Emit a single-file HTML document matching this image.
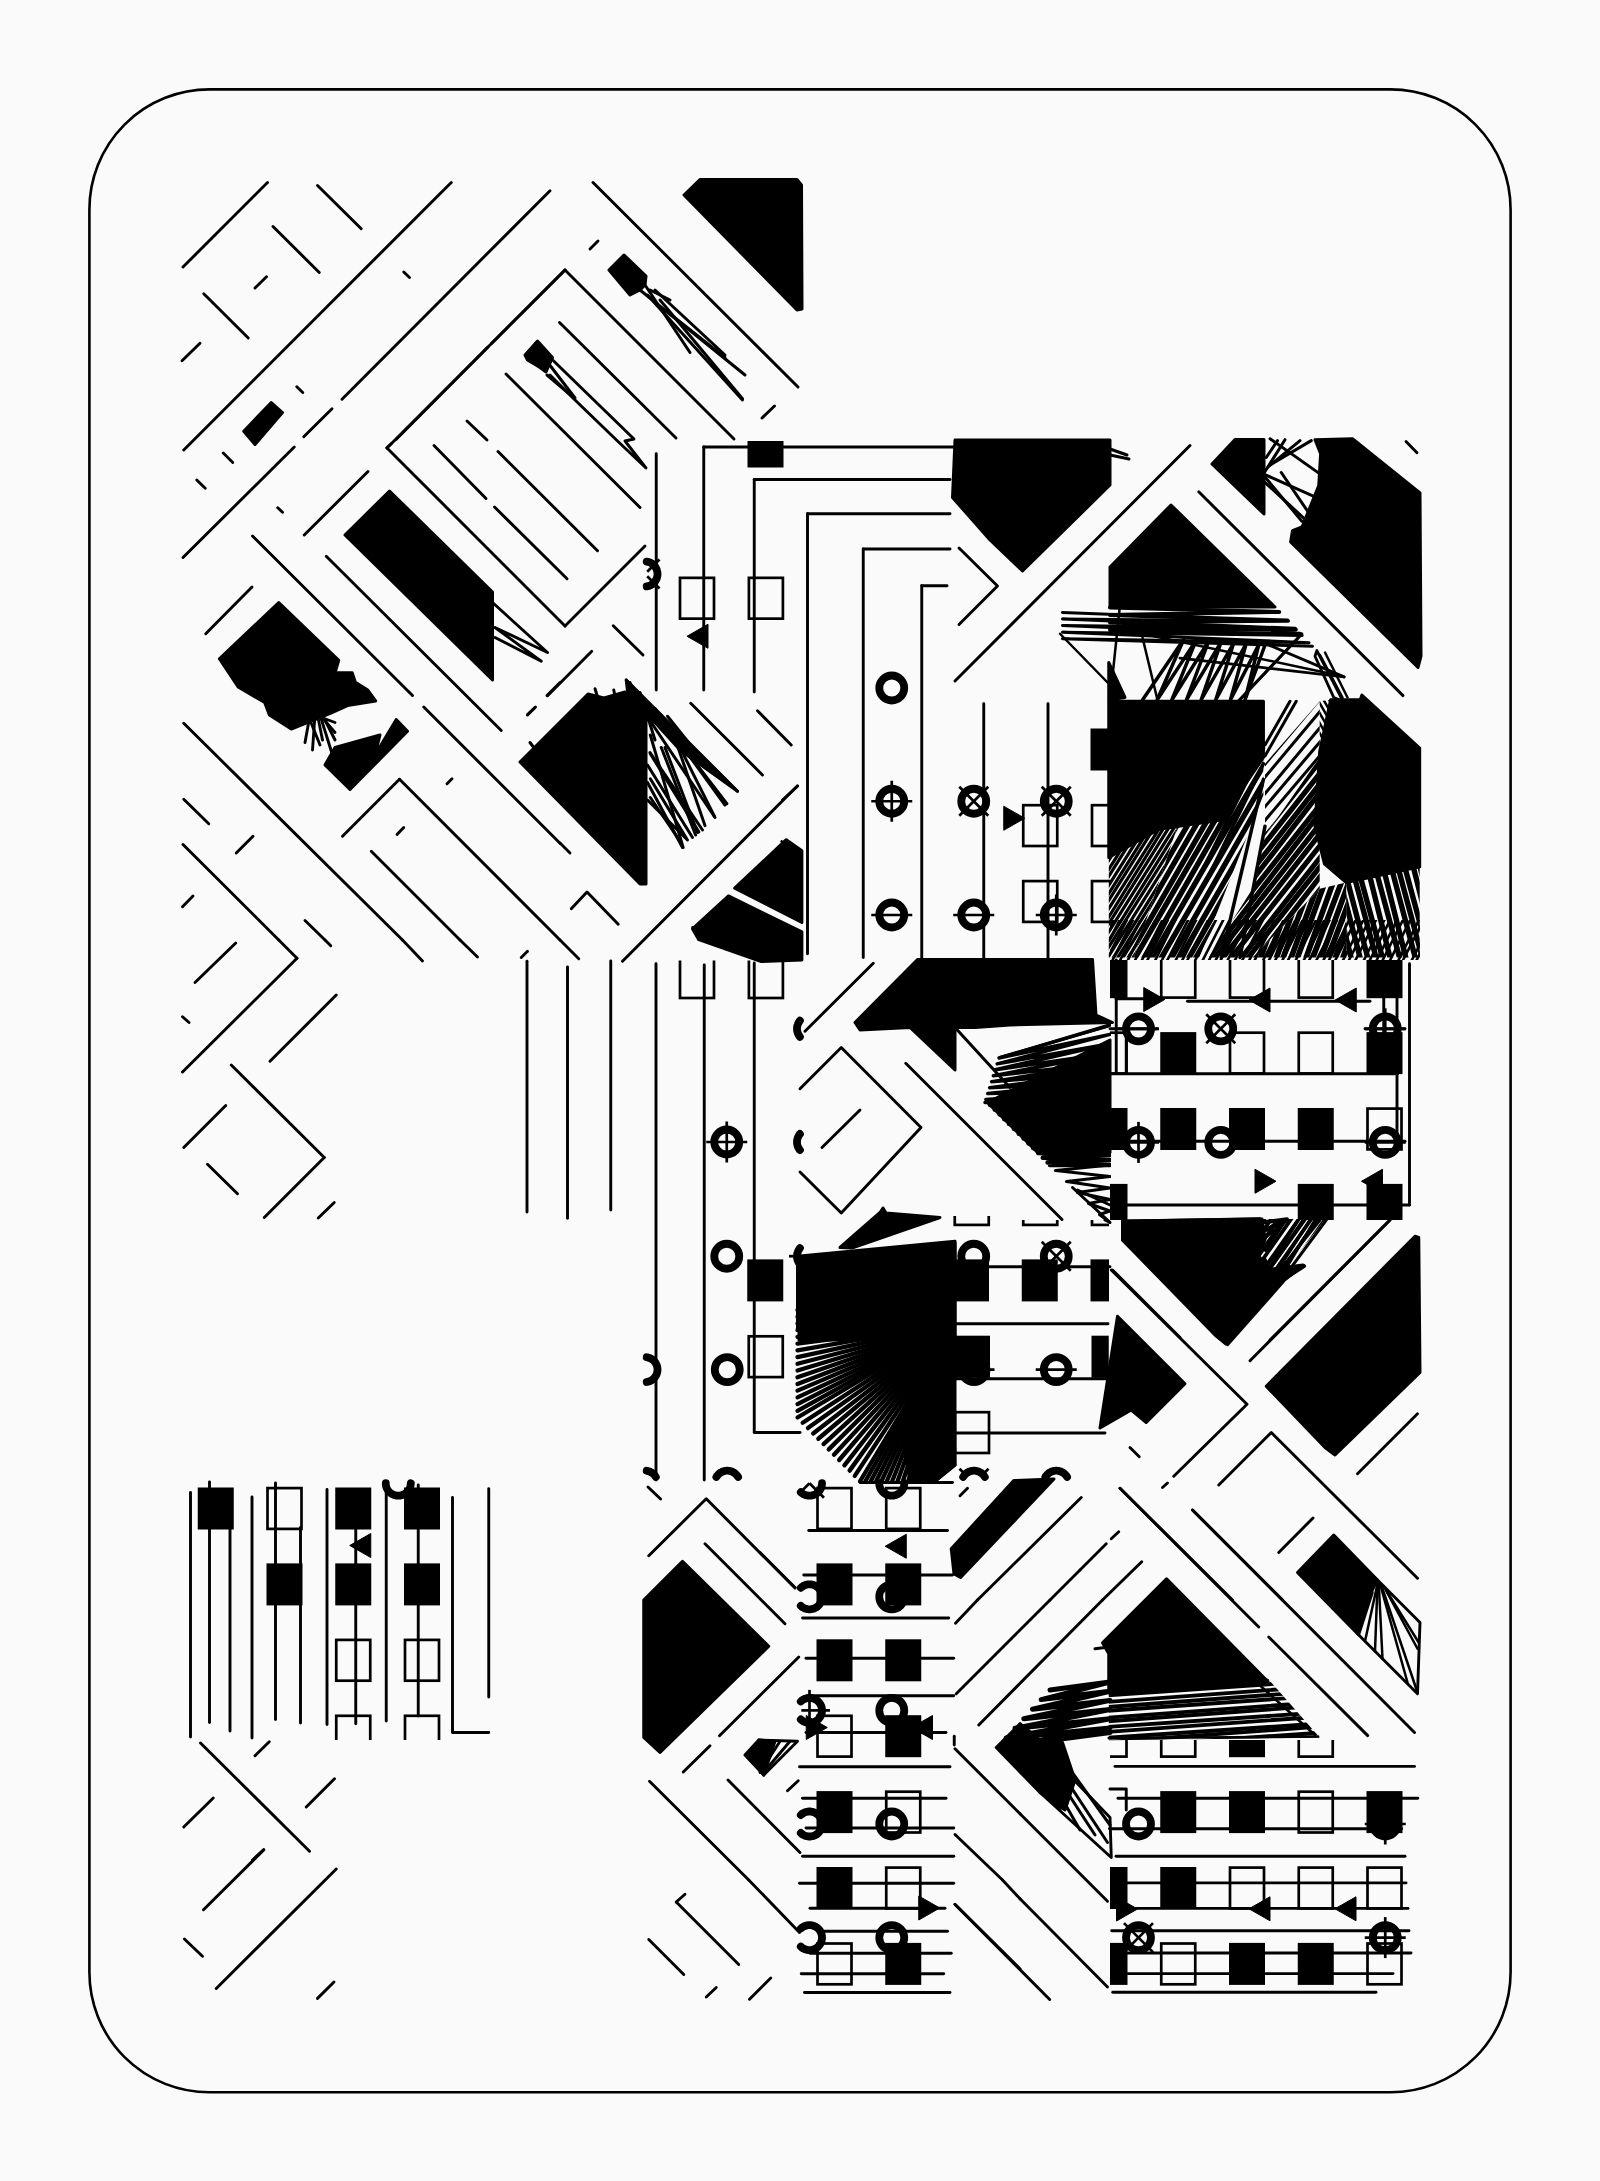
<!DOCTYPE html><html><head><meta charset="utf-8"><title>plot</title><style>html,body{margin:0;padding:0;background:#fafafa}svg{display:block}</style></head><body>
<svg width="1600" height="2181" viewBox="0 0 1600 2181">
<rect width="1600" height="2181" fill="#fafafa"/>
<rect x="89.4" y="89.4" width="1421.2" height="2002.9" rx="120" ry="120" fill="none" stroke="#000" stroke-width="2.6"/>
<g stroke="#000" stroke-width="2.9" stroke-linecap="round" stroke-linejoin="round" fill="none">
<line x1="183" y1="267" x2="267.5" y2="182.5"/>
<line x1="317.5" y1="185.5" x2="361.25" y2="228.75"/>
<line x1="273" y1="226.5" x2="319.25" y2="272.5"/>
<line x1="255" y1="288" x2="266.5" y2="276.75"/>
<line x1="203.75" y1="293.75" x2="248.25" y2="338"/>
<line x1="182" y1="360.75" x2="200" y2="343.25"/>
<line x1="183.75" y1="450" x2="451.25" y2="182.5"/>
<line x1="342" y1="399.25" x2="550" y2="190.75"/>
<line x1="403.75" y1="272" x2="409.5" y2="277.5"/>
<line x1="296.75" y1="386.75" x2="302.75" y2="392.5"/>
<line x1="303.75" y1="436.75" x2="332" y2="408.75"/>
<line x1="183" y1="557.5" x2="294.25" y2="447"/>
<line x1="223.25" y1="453" x2="232.75" y2="462.5"/>
<line x1="196.75" y1="480" x2="205.25" y2="488.25"/>
<line x1="277.75" y1="507.75" x2="282.5" y2="512.25"/>
<line x1="304.25" y1="535" x2="368" y2="471.5"/>
<line x1="396.25" y1="439.25" x2="488" y2="347"/>
<line x1="491.5" y1="343.5" x2="565" y2="270"/>
<line x1="387" y1="447.5" x2="391.25" y2="443.75"/>
<line x1="252.5" y1="536" x2="412.5" y2="695.5"/>
<line x1="326.25" y1="556.25" x2="501.25" y2="730.5"/>
<line x1="205.75" y1="633.75" x2="252" y2="587"/>
<line x1="183.75" y1="723.25" x2="402.5" y2="940"/>
<line x1="423.75" y1="707" x2="560" y2="843.25"/>
<line x1="342.5" y1="836.25" x2="399.5" y2="779.25"/>
<line x1="399.5" y1="779.25" x2="560" y2="940"/>
<line x1="447" y1="783.75" x2="452" y2="778.75"/>
<line x1="397" y1="834.5" x2="403.75" y2="827.5"/>
<line x1="371.25" y1="851.25" x2="460" y2="940"/>
<line x1="183.75" y1="799.25" x2="208.75" y2="823.75"/>
<line x1="236.25" y1="853" x2="253" y2="836.25"/>
<line x1="183" y1="844.5" x2="278.75" y2="940"/>
<line x1="182.5" y1="906.75" x2="193" y2="896"/>
<line x1="305" y1="920.5" x2="325" y2="940"/>
<line x1="547" y1="695.5" x2="560" y2="682.5"/>
<line x1="527.5" y1="714.5" x2="535" y2="707.5"/>
<line x1="310" y1="715" x2="305" y2="742.5"/>
<line x1="315" y1="715" x2="312.5" y2="750"/>
<line x1="315" y1="715" x2="335" y2="722.5"/>
<line x1="320" y1="715" x2="332.5" y2="755"/>
<line x1="317.5" y1="715" x2="322.5" y2="740"/>
<line x1="320" y1="715" x2="335" y2="732.5"/>
<line x1="310" y1="720" x2="320" y2="745"/>
<line x1="325" y1="720" x2="335" y2="740"/>
<line x1="565" y1="270" x2="734" y2="439"/>
<line x1="565" y1="270" x2="387" y2="448"/>
<line x1="387" y1="448" x2="565" y2="626"/>
<line x1="565" y1="626" x2="645" y2="546"/>
<line x1="506" y1="374" x2="640" y2="507.5"/>
<line x1="559.5" y1="322.5" x2="676" y2="438"/>
<line x1="762" y1="418" x2="774.5" y2="406"/>
<line x1="498" y1="451.5" x2="597.5" y2="550.75"/>
<line x1="434" y1="445.5" x2="486" y2="498.5"/>
<line x1="467" y1="421" x2="487" y2="440"/>
<line x1="494.5" y1="507" x2="567" y2="578.75"/>
<line x1="593" y1="182.5" x2="798" y2="387"/>
<line x1="590" y1="249" x2="598" y2="241"/>
<line x1="613.25" y1="625.75" x2="643" y2="655"/>
<line x1="547.5" y1="695.75" x2="591.75" y2="651.25"/>
<line x1="527.5" y1="715" x2="535.5" y2="707"/>
<line x1="656.25" y1="453.75" x2="656.25" y2="690"/>
<line x1="703.75" y1="447" x2="703.75" y2="690"/>
<line x1="754.25" y1="479.5" x2="754.25" y2="692"/>
<line x1="690.75" y1="703.25" x2="762.5" y2="775"/>
<line x1="757.5" y1="710.75" x2="791.25" y2="745"/>
<line x1="782.5" y1="800" x2="797.5" y2="786.25"/>
<line x1="542" y1="355" x2="575" y2="398" stroke-width="3"/>
<line x1="547" y1="375" x2="573" y2="397" stroke-width="3"/>
<line x1="627.5" y1="681.25" x2="737.5" y2="791.25" stroke-width="3"/>
<line x1="655" y1="708.75" x2="725" y2="805" stroke-width="3"/>
<line x1="646.25" y1="715" x2="715" y2="817.5" stroke-width="3"/>
<line x1="650" y1="752.5" x2="702.5" y2="830" stroke-width="3"/>
<line x1="647.5" y1="765" x2="692.5" y2="837.5" stroke-width="3"/>
<line x1="647.5" y1="782.5" x2="682.5" y2="847.5" stroke-width="3"/>
<line x1="647.5" y1="800" x2="687.5" y2="840" stroke-width="3"/>
<line x1="665" y1="747.5" x2="697.5" y2="832.5" stroke-width="3"/>
<line x1="655" y1="708.75" x2="692.5" y2="750" stroke-width="3"/>
<line x1="652.5" y1="712.5" x2="687.5" y2="750" stroke-width="3"/>
<line x1="626.25" y1="680" x2="632.5" y2="735" stroke-width="3"/>
<line x1="630" y1="682.5" x2="645" y2="722.5" stroke-width="3"/>
<line x1="640" y1="692.5" x2="655" y2="740" stroke-width="3"/>
<line x1="660" y1="722.5" x2="680" y2="735" stroke-width="3"/>
<line x1="665" y1="730" x2="687.5" y2="742.5" stroke-width="3"/>
<line x1="595" y1="688.75" x2="600" y2="705" stroke-width="3"/>
<line x1="613.75" y1="690" x2="616.25" y2="702.5" stroke-width="3"/>
<line x1="530" y1="742.5" x2="537.5" y2="752.5" stroke-width="3"/>
<line x1="560" y1="843" x2="570" y2="853"/>
<line x1="560" y1="940" x2="578.75" y2="958.75"/>
<line x1="622.5" y1="961.25" x2="797.5" y2="785.75"/>
<line x1="521.25" y1="957.5" x2="527.5" y2="951.25"/>
<line x1="807.5" y1="513.75" x2="807.5" y2="953.75"/>
<line x1="863.25" y1="549" x2="863.25" y2="957.5"/>
<line x1="807.5" y1="513.75" x2="950" y2="513.75"/>
<line x1="863.25" y1="549" x2="950" y2="549"/>
<line x1="703.75" y1="447" x2="955" y2="447"/>
<line x1="754.25" y1="479.5" x2="950" y2="479.5"/>
<line x1="692.5" y1="927.188" x2="730" y2="938.125" stroke-width="2.5"/>
<line x1="695.625" y1="933.438" x2="736.25" y2="945.938" stroke-width="2.5"/>
<line x1="781.562" y1="841.25" x2="792.5" y2="860" stroke-width="2.5"/>
<line x1="921.75" y1="585.75" x2="921.75" y2="957.5"/>
<line x1="921.75" y1="585.75" x2="947" y2="585.75"/>
<line x1="955" y1="681" x2="1190" y2="445.5"/>
<line x1="983.75" y1="703.75" x2="983.75" y2="957.5"/>
<line x1="1048" y1="703.75" x2="1048" y2="957.5"/>
<line x1="1110" y1="449" x2="1127" y2="455" stroke-width="3"/>
<line x1="1110" y1="455" x2="1129" y2="459" stroke-width="3"/>
<line x1="1198.75" y1="491.8" x2="1403" y2="695.6"/>
<line x1="1406" y1="441.5" x2="1417" y2="452.8"/>
<line x1="1264.38" y1="474.375" x2="1315" y2="496.875" stroke-width="3"/>
<line x1="1264.38" y1="481.875" x2="1311.25" y2="525" stroke-width="3"/>
<line x1="1270" y1="438.75" x2="1320.62" y2="474.375" stroke-width="3"/>
<line x1="1285" y1="439.688" x2="1264.38" y2="472.5" stroke-width="3"/>
<line x1="1300" y1="440.625" x2="1268.12" y2="466.875" stroke-width="3"/>
<line x1="1311.25" y1="440.625" x2="1270" y2="465" stroke-width="3"/>
<line x1="1264.38" y1="476.25" x2="1301.88" y2="521.25" stroke-width="3"/>
<line x1="1277.5" y1="440.625" x2="1266.25" y2="457.5" stroke-width="3"/>
<line x1="1281.25" y1="472.5" x2="1309.38" y2="513.75" stroke-width="3"/>
<line x1="1301.88" y1="633.75" x2="1238.12" y2="701.25"/>
<line x1="1264.38" y1="643.125" x2="1344.06" y2="676.875"/>
<line x1="1180" y1="658.125" x2="1344.06" y2="676.875"/>
<line x1="1060" y1="633.75" x2="1110" y2="685" stroke-width="2.5"/>
<line x1="1142.5" y1="633.75" x2="1342.5" y2="676.25" stroke-width="2.5"/>
<line x1="1120" y1="605" x2="1110" y2="700" stroke-width="2.5"/>
<line x1="1142.5" y1="637.5" x2="1157.5" y2="700" stroke-width="2.5"/>
<line x1="1320" y1="655" x2="1342.5" y2="697.5" stroke-width="2.5"/>
<line x1="1325" y1="652.5" x2="1347.5" y2="697.5" stroke-width="2.5"/>
<line x1="1300" y1="636.25" x2="1240" y2="700" stroke-width="2.5"/>
<line x1="1263.44" y1="748.125" x2="1196.25" y2="882.5" stroke-width="3.5"/>
<line x1="1205.62" y1="882.5" x2="1263.44" y2="763.75" stroke-width="3.5"/>
<line x1="1263.44" y1="779.375" x2="1221.25" y2="957.5" stroke-width="3.5"/>
<line x1="1265" y1="826.25" x2="1240" y2="957.5" stroke-width="3.5"/>
<line x1="1290" y1="701.25" x2="1265" y2="745" stroke-width="3"/>
<line x1="1296.25" y1="701.25" x2="1265" y2="755.938" stroke-width="3"/>
<line x1="278.75" y1="940" x2="297" y2="958.25"/>
<line x1="297" y1="958.25" x2="182.5" y2="1072"/>
<line x1="325" y1="940" x2="330.75" y2="945.75"/>
<line x1="402.5" y1="940" x2="422.5" y2="961"/>
<line x1="460" y1="940" x2="477.5" y2="957"/>
<line x1="195" y1="982.5" x2="235.75" y2="943"/>
<line x1="182.5" y1="1016.75" x2="189" y2="1022.5"/>
<line x1="270" y1="1061.25" x2="336.25" y2="995"/>
<line x1="231.25" y1="1065" x2="324.25" y2="1157.5"/>
<line x1="324.25" y1="1157.5" x2="264.25" y2="1217.5"/>
<line x1="183.75" y1="1147.5" x2="225.75" y2="1105.5"/>
<line x1="207.5" y1="1164.25" x2="237.5" y2="1193.75"/>
<line x1="318.25" y1="1218" x2="334.25" y2="1202.5"/>
<line x1="527" y1="961.25" x2="527" y2="1212"/>
<line x1="567.5" y1="967" x2="567.5" y2="1218.25"/>
<line x1="610.75" y1="961" x2="610.75" y2="1210"/>
<line x1="656" y1="963.75" x2="656" y2="1480"/>
<line x1="704.25" y1="965" x2="704.25" y2="1480"/>
<line x1="754.25" y1="963" x2="754.25" y2="1432"/>
<line x1="805" y1="1031.25" x2="873.25" y2="963.25"/>
<line x1="822" y1="1147.5" x2="860" y2="1110"/>
<line x1="905.75" y1="1063.25" x2="1062" y2="1219.5"/>
<line x1="955" y1="1027.5" x2="1010" y2="1087.5" stroke-width="3"/>
<line x1="1112.5" y1="1270" x2="1180" y2="1337.5"/>
<line x1="1107.5" y1="1026.25" x2="1000" y2="1057.5" stroke-width="3"/>
<line x1="1110" y1="1222.5" x2="1072.5" y2="1187.5" stroke-width="3"/>
<line x1="1110" y1="1205" x2="1077.5" y2="1190" stroke-width="3"/>
<line x1="955" y1="1266.75" x2="1110" y2="1266.75"/>
<line x1="955" y1="1323.75" x2="1108" y2="1323.75"/>
<line x1="1116" y1="998.75" x2="1150" y2="998.75"/>
<line x1="1187.5" y1="1001.25" x2="1370" y2="1001.25"/>
<line x1="1116.25" y1="960" x2="1116.25" y2="1072.5"/>
<line x1="1126.25" y1="1028.75" x2="1126.25" y2="1072.5"/>
<line x1="1110" y1="1028.75" x2="1157.5" y2="1028.75"/>
<line x1="1365" y1="1028.75" x2="1405" y2="1028.75"/>
<line x1="1110" y1="1073.75" x2="1397.5" y2="1073.75" stroke-width="3"/>
<line x1="1397" y1="997.5" x2="1397" y2="1140"/>
<line x1="1409.5" y1="963.75" x2="1409.5" y2="1205"/>
<line x1="1110" y1="1141.25" x2="1405" y2="1141.25"/>
<line x1="1126" y1="1205" x2="1409.5" y2="1205"/>
<line x1="1383.75" y1="997.5" x2="1383.75" y2="1032.5"/>
<line x1="1265" y1="1237.5" x2="1287.5" y2="1220" stroke-width="3"/>
<line x1="1265" y1="1230" x2="1280" y2="1221.25" stroke-width="3"/>
<line x1="1310" y1="1220" x2="1265" y2="1290" stroke-width="3"/>
<line x1="1315" y1="1220" x2="1270" y2="1295" stroke-width="3"/>
<line x1="1320" y1="1220" x2="1230" y2="1332.5" stroke-width="3"/>
<line x1="1326.25" y1="1220" x2="1280" y2="1282.5" stroke-width="3"/>
<line x1="1302.5" y1="1266.25" x2="1280" y2="1282.5" stroke-width="3"/>
<line x1="1305" y1="1220" x2="1255" y2="1290" stroke-width="3"/>
<line x1="1297.5" y1="1221.25" x2="1240" y2="1315" stroke-width="3"/>
<line x1="1390" y1="1220" x2="1270" y2="1340"/>
<line x1="1390" y1="1220" x2="1250" y2="1360.75"/>
<line x1="955" y1="1378.75" x2="1108" y2="1378.75"/>
<line x1="955" y1="1433" x2="1105" y2="1433"/>
<line x1="1130" y1="1447.5" x2="1139.25" y2="1456.75"/>
<line x1="1162.5" y1="1487.5" x2="1167.5" y2="1483"/>
<line x1="1357.5" y1="1473.75" x2="1417.5" y2="1413.75"/>
<line x1="1120" y1="1488.25" x2="1232.5" y2="1600"/>
<line x1="1192.5" y1="1510" x2="1282.5" y2="1600"/>
<line x1="1278.75" y1="1552.5" x2="1313" y2="1518"/>
<line x1="1111.25" y1="1538.75" x2="1118.75" y2="1531.75"/>
<line x1="1080" y1="1570" x2="1106.25" y2="1543.75"/>
<line x1="1102.5" y1="1600" x2="1141.75" y2="1561.75"/>
<line x1="953.75" y1="1322.5" x2="797.5" y2="1310" stroke-width="4.3"/>
<line x1="953.75" y1="1322.62" x2="797.5" y2="1316.72" stroke-width="4.3"/>
<line x1="953.75" y1="1322.75" x2="797.5" y2="1323.44" stroke-width="4.3"/>
<line x1="953.75" y1="1322.88" x2="797.5" y2="1330.16" stroke-width="4.3"/>
<line x1="953.75" y1="1323" x2="797.5" y2="1336.88" stroke-width="4.3"/>
<line x1="953.75" y1="1323.12" x2="797.5" y2="1343.59" stroke-width="4.3"/>
<line x1="953.75" y1="1323.25" x2="797.5" y2="1350.31" stroke-width="4.3"/>
<line x1="953.75" y1="1323.38" x2="797.5" y2="1357.03" stroke-width="4.3"/>
<line x1="953.75" y1="1323.5" x2="797.5" y2="1363.75" stroke-width="4.3"/>
<line x1="953.75" y1="1323.62" x2="797.5" y2="1370.47" stroke-width="4.3"/>
<line x1="953.75" y1="1323.75" x2="797.5" y2="1377.19" stroke-width="4.3"/>
<line x1="953.75" y1="1323.88" x2="797.5" y2="1383.91" stroke-width="4.3"/>
<line x1="953.75" y1="1324" x2="797.5" y2="1390.62" stroke-width="4.3"/>
<line x1="953.75" y1="1324.12" x2="797.5" y2="1397.34" stroke-width="4.3"/>
<line x1="953.75" y1="1324.25" x2="797.5" y2="1404.06" stroke-width="4.3"/>
<line x1="953.75" y1="1324.38" x2="797.5" y2="1410.78" stroke-width="4.3"/>
<line x1="953.75" y1="1324.5" x2="797.5" y2="1417.5" stroke-width="4.3"/>
<line x1="953.75" y1="1324.62" x2="802.708" y2="1422.81" stroke-width="4.3"/>
<line x1="953.75" y1="1324.75" x2="807.917" y2="1428.12" stroke-width="4.3"/>
<line x1="953.75" y1="1324.88" x2="813.125" y2="1433.44" stroke-width="4.3"/>
<line x1="953.75" y1="1325" x2="818.333" y2="1438.75" stroke-width="4.3"/>
<line x1="953.75" y1="1325.12" x2="823.542" y2="1444.06" stroke-width="4.3"/>
<line x1="953.75" y1="1325.25" x2="828.75" y2="1449.38" stroke-width="4.3"/>
<line x1="953.75" y1="1325.38" x2="833.958" y2="1454.69" stroke-width="4.3"/>
<line x1="953.75" y1="1325.5" x2="839.167" y2="1460" stroke-width="4.3"/>
<line x1="953.75" y1="1325.62" x2="844.375" y2="1465.31" stroke-width="4.3"/>
<line x1="953.75" y1="1325.75" x2="849.583" y2="1470.62" stroke-width="4.3"/>
<line x1="953.75" y1="1325.88" x2="854.792" y2="1475.94" stroke-width="4.3"/>
<line x1="953.75" y1="1326" x2="860" y2="1481.25" stroke-width="4.3"/>
<line x1="953.75" y1="1326.12" x2="865.357" y2="1481.25" stroke-width="4.3"/>
<line x1="953.75" y1="1326.25" x2="870.714" y2="1481.25" stroke-width="4.3"/>
<line x1="953.75" y1="1326.38" x2="876.071" y2="1481.25" stroke-width="4.3"/>
<line x1="953.75" y1="1326.5" x2="881.429" y2="1481.25" stroke-width="4.3"/>
<line x1="953.75" y1="1326.62" x2="886.786" y2="1481.25" stroke-width="4.3"/>
<line x1="953.75" y1="1326.75" x2="892.143" y2="1481.25" stroke-width="4.3"/>
<line x1="953.75" y1="1326.88" x2="897.5" y2="1481.25" stroke-width="4.3"/>
<line x1="953.75" y1="1327" x2="902.857" y2="1481.25" stroke-width="4.3"/>
<line x1="953.75" y1="1327.12" x2="908.214" y2="1481.25" stroke-width="4.3"/>
<line x1="953.75" y1="1327.25" x2="913.571" y2="1481.25" stroke-width="4.3"/>
<line x1="953.75" y1="1327.38" x2="918.929" y2="1481.25" stroke-width="4.3"/>
<line x1="953.75" y1="1327.5" x2="924.286" y2="1481.25" stroke-width="4.3"/>
<line x1="953.75" y1="1327.62" x2="929.643" y2="1481.25" stroke-width="4.3"/>
<line x1="953.75" y1="1327.75" x2="935" y2="1481.25" stroke-width="4.3"/>
<line x1="808.75" y1="1530.5" x2="947.5" y2="1530.5"/>
<line x1="860" y1="1482.5" x2="952.5" y2="1482.5"/>
<line x1="803.75" y1="1575" x2="952.5" y2="1575"/>
<line x1="960" y1="1495.75" x2="967.5" y2="1488.25"/>
<line x1="977.5" y1="1600" x2="1081.25" y2="1497.5"/>
<line x1="1050" y1="1600" x2="1080" y2="1570"/>
<line x1="760" y1="1552.5" x2="795" y2="1587.5"/>
<line x1="648" y1="1487" x2="660.6" y2="1499"/>
<line x1="802.5" y1="1618" x2="948.75" y2="1618"/>
<line x1="806" y1="1658.25" x2="953.75" y2="1658.25"/>
<line x1="807.5" y1="1695.75" x2="953.75" y2="1695.75"/>
<line x1="806" y1="1732.5" x2="946" y2="1732.5"/>
<line x1="799.5" y1="1766.75" x2="950" y2="1766.75"/>
<line x1="802.5" y1="1798.25" x2="946" y2="1798.25"/>
<line x1="806" y1="1828" x2="953.75" y2="1828"/>
<line x1="802.5" y1="1856.25" x2="953.75" y2="1856.25"/>
<line x1="705" y1="1543.75" x2="785" y2="1623.75"/>
<line x1="719.5" y1="1735.75" x2="798.75" y2="1657"/>
<line x1="683.25" y1="1772" x2="710" y2="1745.75"/>
<line x1="787.5" y1="1790.75" x2="798.25" y2="1780.75"/>
<line x1="649.5" y1="1781.25" x2="748.75" y2="1880"/>
<line x1="728" y1="1780" x2="800" y2="1852.5"/>
<line x1="955" y1="1748.75" x2="1020" y2="1813.75"/>
<line x1="955" y1="1834.5" x2="1002.5" y2="1880"/>
<line x1="954.25" y1="1736.25" x2="954.25" y2="1745"/>
<line x1="760" y1="1772.5" x2="780" y2="1741.25"/>
<line x1="762.5" y1="1773.75" x2="790" y2="1741.25"/>
<line x1="763.75" y1="1775" x2="770" y2="1741.25"/>
<line x1="955.5" y1="1623.25" x2="977.5" y2="1600"/>
<line x1="956.25" y1="1693.75" x2="1050" y2="1600"/>
<line x1="978.75" y1="1725" x2="1102.5" y2="1600"/>
<line x1="799.5" y1="1883.25" x2="953.75" y2="1883.25"/>
<line x1="810" y1="1908.25" x2="945" y2="1908.25"/>
<line x1="822.5" y1="1931.25" x2="947.5" y2="1931.25"/>
<line x1="810" y1="1953.25" x2="951.25" y2="1953.25"/>
<line x1="801.25" y1="1973.75" x2="943.75" y2="1973.75"/>
<line x1="804.5" y1="1992.5" x2="950" y2="1992.5"/>
<line x1="748.75" y1="1880" x2="799.5" y2="1932.5"/>
<line x1="676.25" y1="1902" x2="685" y2="1894.25"/>
<line x1="676.25" y1="1902" x2="738.75" y2="1964.5"/>
<line x1="648.75" y1="1939.5" x2="683.75" y2="1974.5"/>
<line x1="706.25" y1="1997" x2="716.25" y2="1987.5"/>
<line x1="749.5" y1="1999.25" x2="770.75" y2="1978"/>
<line x1="955" y1="1904.25" x2="1020" y2="1968.75"/>
<line x1="1002.5" y1="1880" x2="1020" y2="1898.75"/>
<line x1="1252.5" y1="1678.75" x2="1315" y2="1735" stroke-width="2.5"/>
<line x1="1108.75" y1="1738.12" x2="1318.12" y2="1736.56" stroke-width="2.5"/>
<line x1="1095" y1="1648.75" x2="1165" y2="1640" stroke-width="3"/>
<line x1="1022.5" y1="1730" x2="1080" y2="1830" stroke-width="3"/>
<line x1="1030" y1="1735" x2="1095" y2="1835" stroke-width="3"/>
<line x1="1040" y1="1740" x2="1107.5" y2="1842.5" stroke-width="3"/>
<line x1="1052.5" y1="1745" x2="1110" y2="1825" stroke-width="3"/>
<line x1="1015" y1="1735" x2="1060" y2="1810" stroke-width="3"/>
<line x1="1120" y1="1488.25" x2="1258.75" y2="1627"/>
<line x1="1268.75" y1="1637" x2="1367.75" y2="1735.6"/>
<line x1="1192.5" y1="1510" x2="1414.5" y2="1732.4"/>
<line x1="1020" y1="1813.75" x2="1107.5" y2="1901.25"/>
<line x1="1020" y1="1898.75" x2="1107.5" y2="1986.9"/>
<line x1="955" y1="1904.5" x2="1049.7" y2="1999.4"/>
<line x1="1115" y1="1766.4" x2="1414.5" y2="1766.4"/>
<line x1="1118" y1="1798.3" x2="1417.7" y2="1798.3"/>
<line x1="1109.5" y1="1828.7" x2="1401.7" y2="1828.7"/>
<line x1="1116" y1="1856.3" x2="1405" y2="1856.3"/>
<line x1="1126.5" y1="1882.9" x2="1406" y2="1882.9"/>
<line x1="1136" y1="1908.4" x2="1408" y2="1908.4"/>
<line x1="1111.7" y1="1930.7" x2="1409" y2="1930.7"/>
<line x1="1126.5" y1="1953" x2="1411" y2="1953"/>
<line x1="1126.5" y1="1973.6" x2="1393" y2="1973.6"/>
<line x1="1112.75" y1="1992.3" x2="1376" y2="1992.3"/>
<line x1="1377.5" y1="1583.75" x2="1365" y2="1641.25" stroke-width="2.5"/>
<line x1="1377.5" y1="1583.75" x2="1375" y2="1651.25" stroke-width="2.5"/>
<line x1="1378.75" y1="1583.75" x2="1382.5" y2="1658.75" stroke-width="2.5"/>
<line x1="1380" y1="1583.75" x2="1407.5" y2="1682.5" stroke-width="2.5"/>
<line x1="1381.25" y1="1585" x2="1417.5" y2="1692.5" stroke-width="2.5"/>
<line x1="1383.75" y1="1586.25" x2="1417.5" y2="1648.75" stroke-width="2.5"/>
<line x1="1387.5" y1="1592.5" x2="1418.75" y2="1642.5" stroke-width="2.5"/>
<line x1="1372.5" y1="1592.5" x2="1358.75" y2="1635" stroke-width="2.5"/>
<line x1="190.5" y1="1492.5" x2="190.5" y2="1737"/>
<line x1="209.5" y1="1482" x2="209.5" y2="1722.5"/>
<line x1="230" y1="1527.5" x2="230" y2="1731"/>
<line x1="252" y1="1497" x2="252" y2="1738"/>
<line x1="275.5" y1="1483" x2="275.5" y2="1719.5"/>
<line x1="300.5" y1="1527.5" x2="300.5" y2="1723"/>
<line x1="327" y1="1489.5" x2="327" y2="1724.5"/>
<line x1="355.75" y1="1527.5" x2="355.75" y2="1723.75"/>
<line x1="386.25" y1="1490" x2="386.25" y2="1721"/>
<line x1="418.25" y1="1485" x2="418.25" y2="1716"/>
<line x1="488.75" y1="1488.75" x2="488.75" y2="1697"/>
<line x1="200.5" y1="1743" x2="309.5" y2="1851.25"/>
<line x1="255" y1="1755.75" x2="269.25" y2="1741.75"/>
<line x1="306.25" y1="1807" x2="334.5" y2="1778.75"/>
<line x1="183.75" y1="1827" x2="213.25" y2="1798"/>
<line x1="252.5" y1="1860" x2="263.75" y2="1849.5"/>
<line x1="203.5" y1="1909.75" x2="263.7" y2="1850"/>
<line x1="216.25" y1="1988.5" x2="336.25" y2="1869"/>
<line x1="184.4" y1="1939" x2="202.5" y2="1956.25"/>
<line x1="317.5" y1="1998.4" x2="334" y2="1982"/>
<line x1="640" y1="290" x2="745" y2="375" stroke-width="3"/>
<line x1="647.5" y1="295" x2="742.5" y2="400" stroke-width="3"/>
<line x1="655" y1="290" x2="725" y2="355" stroke-width="3"/>
<line x1="645" y1="285" x2="690" y2="352.5" stroke-width="3"/>
<line x1="660" y1="300" x2="742.5" y2="398.75" stroke-width="3"/>
<line x1="650" y1="290" x2="670" y2="300" stroke-width="3"/>
<line x1="665" y1="310" x2="725" y2="357.5" stroke-width="3"/>
<line x1="650.312" y1="735" x2="683.125" y2="847.5" stroke-width="3"/>
<line x1="650.312" y1="753.75" x2="698.75" y2="831.875" stroke-width="3"/>
<line x1="655" y1="710" x2="726.875" y2="803.75" stroke-width="3"/>
<line x1="667.5" y1="722.5" x2="714.375" y2="816.25" stroke-width="3"/>
<line x1="650.312" y1="778.75" x2="686.25" y2="838.125" stroke-width="3"/>
<line x1="650.312" y1="797.5" x2="680" y2="841.25" stroke-width="3"/>
<line x1="661.25" y1="747.5" x2="695.625" y2="835" stroke-width="3"/>
<line x1="673.75" y1="735" x2="705" y2="825.625" stroke-width="3"/>
<line x1="655" y1="710" x2="680" y2="735" stroke-width="3"/>
<line x1="667.5" y1="716.25" x2="692.5" y2="747.5" stroke-width="3"/>
<line x1="1261.5" y1="1222.5" x2="1287" y2="1219.31" stroke-width="4"/>
<line x1="1263.62" y1="1231" x2="1282.75" y2="1222.5" stroke-width="4"/>
<line x1="1284.88" y1="1220.38" x2="1265.75" y2="1250.12" stroke-width="4"/>
<line x1="1282.75" y1="1279.88" x2="1304" y2="1266.06" stroke-width="4"/>
<polyline points="492.5,602.5 547.5,652.5 495,627.5 541.25,661.25 495,637.5"/>
<polyline points="547.5,355 634,439 625,441 646,468 617.5,441 575,400 550,375"/>
<polyline points="571.25,908.75 587,892 618.25,924.25"/>
<polyline points="959,548 997.5,586 959,624.5"/>
<polyline points="1316.88,650.625 1343.12,701.25 1333.75,697.5 1315,656.25 1316.88,650.625"/>
<polyline points="800,1088.75 841.25,1047.5 921,1127.5 841.25,1213 800,1172"/>
<polyline points="1111.25,1270 1247,1404.25 1173.75,1476.25"/>
<polyline points="1218.75,1485 1271.25,1432.5 1417.5,1578.25"/>
<polyline points="754.25,1432.5 800,1432.5"/>
<polyline points="648.75,1555.75 706.25,1498.75 795,1588"/>
<polyline points="758.75,1740 797.5,1741.25 763.75,1775"/>
<polyline points="1020,1723.75 1110,1817.5 1111.25,1857.5 1040,1792.5"/>
<polyline points="1110,1789 1126.25,1789 1126.25,1810"/>
<polyline points="1357.5,1633.75 1417.5,1693.75 1420,1622.5 1377.5,1580"/>
<polyline points="452.5,1497.5 452.5,1732.5 488.75,1732.5"/>
</g>
<g fill="#000" stroke="#000" stroke-width="3" stroke-linejoin="round">
<polygon points="243.75,431.25 271.25,402.5 282.5,412.5 255,444.5"/>
<polygon points="219.375,658.75 278.75,602.5 338.75,660.312 335,672.812 352.188,672.812 355.312,682.188 367.812,690 375.625,700.938 347.5,705.625 330.312,713.438 291.25,729.062 269.375,715 264.688,702.5 238.125,686.875"/>
<polygon points="335,747.5 380,735 375,755 396.25,719.5 407.5,731.25 350,789.5 325,765"/>
<polygon points="389.5,491 345,535 492.5,680 492.5,592"/>
<polygon points="525,355 537.5,341 552.5,357.5 546,372 540,367.5 527.5,360"/>
<polygon points="520,762 588,694 604,698 625,692 646,712 646,884 640,884"/>
<polygon points="626.25,680 642.5,697.5 737.5,791.25 680,750 655,722.5 635,715"/>
<polygon points="734.688,888.125 786.25,839.688 801.875,850.625 801.875,922.5"/>
<polygon points="692.5,928.75 728.438,895.938 801.875,931.875 801.875,960 761.25,961.562 698.75,939.688"/>
<polygon points="955,440 1110,440 1110,485 1022.5,571 990,540 952.5,497.5"/>
<polygon points="1171,505 1275,607 1110,607 1110,567"/>
<polygon points="1212,464 1235,439.5 1264,439.5 1264,514"/>
<polygon points="1315,439.7 1352.5,438.75 1420,493 1421,656 1418,667.5 1290.6,542 1292.5,530.6 1302,527 1318.75,485.6 1320.6,453.75"/>
<polygon points="1108.75,701.25 1263.44,701.25 1263.44,757.5 1221.25,820 1158.75,829.375 1108.75,857.5"/>
<polygon points="1108.75,662.5 1125,697.5 1108.75,700"/>
<polygon points="1319.69,751.25 1330.62,699.688 1360.31,699.688 1361.88,695 1419.69,748.125 1419.69,866.875 1346.25,882.5 1324.38,863.75 1315,826.25"/>
<polygon points="855,1022.5 917.5,959.5 1092.5,959.5 1096,1015 1112.5,1022.5 1010,1025 975,1027.5 955,1027.5 955,1070 910,1027.5 860,1030"/>
<polygon points="987.5,1102.5 1110,1040 1110,1152.5 1037.5,1152.5"/>
<polygon points="799,1258 955,1243 955,1340 799,1340"/>
<polygon points="840,1247.5 880,1212.5 883,1208 886,1213 940,1217.5 852,1248"/>
<polygon points="1122.5,1221.25 1260,1218.75 1265,1237.5 1255,1252.5 1265,1262.5 1215,1332.5 1122.5,1240"/>
<polygon points="1266.25,1386.25 1415,1236.25 1418.75,1237.5 1420,1372.5 1335,1455 1325,1447.5"/>
<polygon points="1122.5,1221 1262,1219 1265,1240 1240,1300 1226,1344 1215,1335 1122.5,1240"/>
<polygon points="1100,1428 1117.5,1316.25 1185,1383.75 1146.25,1422.5 1131.25,1410"/>
<polygon points="797.5,1256.25 955,1241.25 955,1465 935,1481.25 920,1425 932.5,1350 950,1317.5 797.5,1310"/>
<polygon points="951.25,1317.5 955,1465 935,1481.25 910,1481.25 900,1425"/>
<polygon points="951.25,1317.5 797.5,1330 797.5,1310"/>
<polygon points="951.25,1548.75 1013.75,1480.6 1054,1479 960.6,1577.5 954,1574"/>
<polygon points="643.75,1600 682.5,1561.25 768.75,1646.25 660,1752.5 643.75,1737.5"/>
<polygon points="745,1755 758.75,1740 775,1741.25 763.75,1775"/>
<polygon points="1166.56,1578.75 1268.12,1681.88 1108.75,1692.81 1108.75,1653.75 1102.5,1642.81"/>
<polygon points="996.25,1747.5 1020,1723.75 1040,1740 1062.5,1742.5 1075,1780 1065,1810 1040,1792.5"/>
<polygon points="1297.5,1572.5 1333.75,1535 1377.5,1580 1371,1592.5 1357.5,1633.75"/>
<polygon points="684,195 700,179.5 797,179.5 801.5,185 802,309 797,310"/>
<polygon points="609,270 624,255 646,276 645,285 640,290 630,295"/>
<polygon points="1246.62,1282 1264.69,1258.62 1270,1269.25 1302.94,1265 1284.88,1279.88 1227.5,1344.69 1216.88,1336.19"/>
</g>
<circle cx="891.75" cy="688" r="12.5" fill="none" stroke="#000" stroke-width="7.8"/>
<circle cx="891.75" cy="801.25" r="12.5" fill="none" stroke="#000" stroke-width="7.8"/><line x1="871.25" y1="801.25" x2="912.25" y2="801.25" stroke="#000" stroke-width="2.7"/><line x1="891.75" y1="780.75" x2="891.75" y2="821.75" stroke="#000" stroke-width="2.7"/>
<circle cx="891.75" cy="915" r="12.5" fill="none" stroke="#000" stroke-width="7.8"/><line x1="871.25" y1="915" x2="912.25" y2="915" stroke="#000" stroke-width="2.7"/>
<circle cx="973.75" cy="801.25" r="12.5" fill="none" stroke="#000" stroke-width="7.8"/><line x1="959.25" y1="786.75" x2="988.25" y2="815.75" stroke="#000" stroke-width="2.7"/><line x1="959.25" y1="815.75" x2="988.25" y2="786.75" stroke="#000" stroke-width="2.7"/>
<circle cx="973.75" cy="915" r="12.5" fill="none" stroke="#000" stroke-width="7.8"/><line x1="953.25" y1="915" x2="994.25" y2="915" stroke="#000" stroke-width="2.7"/>
<circle cx="1056.25" cy="801.25" r="12.5" fill="none" stroke="#000" stroke-width="7.8"/><line x1="1041.75" y1="786.75" x2="1070.75" y2="815.75" stroke="#000" stroke-width="2.7"/><line x1="1041.75" y1="815.75" x2="1070.75" y2="786.75" stroke="#000" stroke-width="2.7"/>
<circle cx="1056.25" cy="915" r="12.5" fill="none" stroke="#000" stroke-width="7.8"/><line x1="1035.75" y1="915" x2="1076.75" y2="915" stroke="#000" stroke-width="2.7"/><line x1="1056.25" y1="894.5" x2="1056.25" y2="935.5" stroke="#000" stroke-width="2.7"/>
<polygon points="1003.75,806.25 1003.75,830.25 1024.75,818.25" fill="#000" stroke="#000" stroke-width="1"/>
<rect x="1023.25" y="805.2" width="34" height="40.8" fill="none" stroke="#000" stroke-width="2.7"/>
<rect x="1023.25" y="881.1" width="34" height="40.8" fill="none" stroke="#000" stroke-width="2.7"/>
<clipPath id="c1"><rect x="1080" y="700" width="30" height="260"/></clipPath><g clip-path="url(#c1)">
<rect x="1092" y="805.2" width="34" height="40.8" fill="none" stroke="#000" stroke-width="2.7"/>
<rect x="1092" y="881.1" width="34" height="40.8" fill="none" stroke="#000" stroke-width="2.7"/>
<rect x="1090.5" y="728.5" width="36" height="42" fill="#000"/>
</g>
<rect x="680" y="577.85" width="34" height="40.8" fill="none" stroke="#000" stroke-width="2.7"/>
<rect x="748.9" y="577.85" width="34" height="40.8" fill="none" stroke="#000" stroke-width="2.7"/>
<polygon points="708,624.25 708,648.25 687,636.25" fill="#000" stroke="#000" stroke-width="1"/>
<clipPath id="c2"><rect x="700" y="441" width="100" height="39"/></clipPath><g clip-path="url(#c2)">
<rect x="747.5" y="425.5" width="36" height="42" fill="#000"/>
</g>
<polyline fill="none" stroke="#000" stroke-width="7.8" stroke-linecap="round" stroke-linejoin="round" points="646.7,561.6 647.2,561.7 647.6,561.8 648.0,561.9 648.4,562.0 648.9,562.1 649.3,562.3 649.7,562.4 650.1,562.6 650.5,562.8 650.9,563.0 651.2,563.2 651.6,563.4 652.0,563.6 652.3,563.9 652.7,564.1 653.0,564.4 653.4,564.7 653.7,565.0 654.0,565.3 654.3,565.6 654.6,566.0 654.9,566.3 655.1,566.7 655.4,567.0 655.6,567.4 655.8,567.8 656.0,568.1 656.2,568.5 656.4,568.9 656.6,569.3 656.7,569.7 656.9,570.1 657.0,570.6 657.1,571.0 657.2,571.4 657.3,571.8 657.4,572.3 657.4,572.7 657.5,573.1 657.5,573.6 657.5,574.0 657.5,574.4 657.5,574.9 657.4,575.3 657.4,575.7 657.3,576.2 657.2,576.6 657.1,577.0 657.0,577.4 656.9,577.9 656.7,578.3 656.6,578.7 656.4,579.1 656.2,579.5 656.0,579.9 655.8,580.2 655.6,580.6 655.4,581.0 655.1,581.3 654.9,581.7 654.6,582.0 654.3,582.4 654.0,582.7 653.7,583.0 653.4,583.3 653.0,583.6 652.7,583.9 652.3,584.1 652.0,584.4 651.6,584.6 651.2,584.8 650.9,585.0 650.5,585.2 650.1,585.4 649.7,585.6 649.3,585.7 648.9,585.9 648.4,586.0 648.0,586.1 647.6,586.2 647.2,586.3 646.7,586.4"/>
<line x1="647.2" y1="576.2" x2="659.5" y2="588.5" stroke="#000" stroke-width="2.7"/>
<line x1="647.2" y1="571.8" x2="659.5" y2="559.5" stroke="#000" stroke-width="2.7"/>
<clipPath id="c3"><rect x="1060" y="560" width="361" height="401"/></clipPath><g clip-path="url(#c3)">
<polyline fill="none" stroke="#000" stroke-width="3" stroke-linejoin="round" stroke-linecap="round" points="1062.5,612.5 1288.4,621.1 1062.5,619.1 1295.3,628.3 1062.5,625.6 1302.2,635.5 1062.5,632.2 1309.1,642.7 1062.5,638.8 1312.5,646.2"/>
<polyline fill="none" stroke="#000" stroke-width="4" stroke-linejoin="round" stroke-linecap="round" points="1110.0,607.5 1279.2,611.9 1110.0,615.0 1287.5,620.6 1110.0,622.5 1295.8,629.4 1110.0,630.0 1300.0,633.8"/>
<polyline fill="none" stroke="#000" stroke-width="3.5" stroke-linejoin="round" stroke-linecap="round" points="1142.5,700.0 1183.8,639.2 1157.1,700.0 1196.2,640.1 1171.8,700.0 1208.8,641.0 1186.4,700.0 1221.2,641.9 1201.1,700.0 1233.8,642.8 1215.7,700.0 1246.2,643.7 1230.4,700.0 1258.8,644.6 1245.0,700.0 1265.0,645.0"/>
<clipPath id="c4"><polygon points="1108.8,851.2 1158.8,826.2 1177.5,826.2 1133.8,957.5 1108.8,957.5"/></clipPath><g clip-path="url(#c4)" stroke="#000" stroke-width="3.2" stroke-linecap="round"><line x1="1034.1" y1="917.0" x2="1118.1" y2="783.0"/><line x1="1037.3" y1="919.0" x2="1121.7" y2="785.3"/><line x1="1041.4" y1="921.6" x2="1125.6" y2="787.7"/><line x1="1045.2" y1="923.9" x2="1128.4" y2="789.4"/><line x1="1048.3" y1="925.9" x2="1132.4" y2="791.9"/><line x1="1051.5" y1="927.9" x2="1135.7" y2="794.0"/><line x1="1055.2" y1="930.2" x2="1138.9" y2="796.0"/><line x1="1058.6" y1="932.3" x2="1143.2" y2="798.7"/><line x1="1062.3" y1="934.6" x2="1146.2" y2="800.5"/><line x1="1066.1" y1="937.0" x2="1150.4" y2="803.2"/><line x1="1069.3" y1="939.0" x2="1153.5" y2="805.1"/><line x1="1073.4" y1="941.5" x2="1157.5" y2="807.6"/><line x1="1077.2" y1="943.9" x2="1161.1" y2="809.8"/><line x1="1080.2" y1="945.8" x2="1164.2" y2="811.8"/><line x1="1083.9" y1="948.1" x2="1168.2" y2="814.3"/><line x1="1088.0" y1="950.7" x2="1171.0" y2="816.1"/><line x1="1090.8" y1="952.4" x2="1174.7" y2="818.3"/><line x1="1094.4" y1="954.7" x2="1178.5" y2="820.7"/><line x1="1098.4" y1="957.2" x2="1181.8" y2="822.8"/><line x1="1101.3" y1="959.0" x2="1185.6" y2="825.1"/><line x1="1105.3" y1="961.5" x2="1189.3" y2="827.5"/><line x1="1109.4" y1="964.1" x2="1193.0" y2="829.8"/><line x1="1112.5" y1="966.0" x2="1196.4" y2="831.9"/><line x1="1116.3" y1="968.3" x2="1199.4" y2="833.8"/><line x1="1120.0" y1="970.7" x2="1203.7" y2="836.5"/><line x1="1123.6" y1="972.9" x2="1207.3" y2="838.7"/><line x1="1126.6" y1="974.8" x2="1210.5" y2="840.7"/><line x1="1129.9" y1="976.9" x2="1214.3" y2="843.1"/><line x1="1133.4" y1="979.1" x2="1217.3" y2="844.9"/><line x1="1137.1" y1="981.4" x2="1220.9" y2="847.2"/><line x1="1140.8" y1="983.7" x2="1224.4" y2="849.4"/><line x1="1144.1" y1="985.7" x2="1228.0" y2="851.7"/><line x1="1147.7" y1="988.0" x2="1231.8" y2="854.0"/><line x1="1151.2" y1="990.2" x2="1235.9" y2="856.6"/><line x1="1155.4" y1="992.8" x2="1238.7" y2="858.4"/><line x1="1158.6" y1="994.8" x2="1242.5" y2="860.7"/><line x1="1162.2" y1="997.1" x2="1245.8" y2="862.8"/><line x1="1166.3" y1="999.6" x2="1250.3" y2="865.6"/></g>
<clipPath id="c5"><polygon points="1177.5,826.2 1221.2,816.9 1263.4,757.5 1263.4,795.0 1199.4,957.5 1133.8,957.5"/></clipPath><g clip-path="url(#c5)" stroke="#000" stroke-width="5.4" stroke-linecap="round"><line x1="1028.9" y1="902.9" x2="1153.1" y2="687.8"/><line x1="1034.6" y1="906.2" x2="1158.8" y2="691.1"/><line x1="1041.6" y1="910.3" x2="1165.6" y2="695.1"/><line x1="1049.1" y1="914.6" x2="1171.9" y2="698.7"/><line x1="1053.9" y1="917.4" x2="1180.1" y2="703.4"/><line x1="1061.5" y1="921.7" x2="1184.9" y2="706.2"/><line x1="1068.0" y1="925.5" x2="1191.1" y2="709.8"/><line x1="1074.5" y1="929.2" x2="1199.6" y2="714.7"/><line x1="1081.7" y1="933.4" x2="1205.5" y2="718.1"/><line x1="1086.9" y1="936.4" x2="1211.3" y2="721.5"/><line x1="1093.2" y1="940.1" x2="1218.7" y2="725.7"/><line x1="1100.5" y1="944.2" x2="1225.2" y2="729.4"/><line x1="1106.5" y1="947.7" x2="1230.5" y2="732.5"/><line x1="1114.0" y1="952.1" x2="1238.6" y2="737.2"/><line x1="1120.6" y1="955.9" x2="1244.7" y2="740.7"/><line x1="1127.0" y1="959.6" x2="1251.1" y2="744.4"/><line x1="1132.3" y1="962.6" x2="1257.1" y2="747.9"/><line x1="1139.1" y1="966.5" x2="1262.6" y2="751.0"/><line x1="1144.9" y1="969.9" x2="1269.6" y2="755.1"/><line x1="1151.9" y1="973.9" x2="1276.9" y2="759.3"/><line x1="1159.8" y1="978.5" x2="1282.9" y2="762.8"/><line x1="1166.3" y1="982.2" x2="1290.6" y2="767.2"/><line x1="1172.8" y1="986.0" x2="1295.8" y2="770.2"/><line x1="1177.8" y1="988.9" x2="1302.0" y2="773.8"/><line x1="1184.2" y1="992.6" x2="1308.4" y2="777.5"/><line x1="1191.6" y1="996.9" x2="1316.4" y2="782.1"/><line x1="1198.5" y1="1000.9" x2="1322.0" y2="785.3"/><line x1="1204.6" y1="1004.4" x2="1329.1" y2="789.5"/><line x1="1210.0" y1="1007.5" x2="1335.3" y2="793.1"/><line x1="1218.2" y1="1012.2" x2="1342.1" y2="797.0"/><line x1="1224.3" y1="1015.8" x2="1347.9" y2="800.3"/><line x1="1229.6" y1="1018.8" x2="1355.1" y2="804.5"/><line x1="1236.5" y1="1022.8" x2="1361.6" y2="808.2"/><line x1="1244.3" y1="1027.3" x2="1367.3" y2="811.5"/></g>
<clipPath id="c6"><polygon points="1265.0,763.8 1319.7,701.2 1319.7,757.5 1265.0,835.6"/></clipPath><g clip-path="url(#c6)" stroke="#000" stroke-width="3" stroke-linecap="round"><line x1="1183.0" y1="777.9" x2="1283.5" y2="659.8"/><line x1="1190.3" y1="784.1" x2="1289.2" y2="664.6"/><line x1="1196.3" y1="789.1" x2="1296.0" y2="670.3"/><line x1="1204.4" y1="795.9" x2="1303.9" y2="676.9"/><line x1="1210.1" y1="800.7" x2="1310.9" y2="682.8"/><line x1="1218.3" y1="807.5" x2="1317.5" y2="688.3"/><line x1="1224.2" y1="812.5" x2="1324.2" y2="694.0"/><line x1="1230.8" y1="818.0" x2="1330.3" y2="699.1"/><line x1="1239.0" y1="824.9" x2="1338.2" y2="705.7"/><line x1="1245.2" y1="830.1" x2="1345.5" y2="711.8"/><line x1="1251.9" y1="835.8" x2="1352.3" y2="717.5"/><line x1="1259.4" y1="842.0" x2="1358.2" y2="722.5"/><line x1="1265.5" y1="847.1" x2="1365.2" y2="728.4"/><line x1="1272.3" y1="852.9" x2="1372.5" y2="734.5"/><line x1="1279.3" y1="858.7" x2="1379.2" y2="740.1"/><line x1="1286.0" y1="864.3" x2="1386.8" y2="746.5"/><line x1="1293.2" y1="870.4" x2="1393.0" y2="751.7"/><line x1="1300.4" y1="876.4" x2="1400.6" y2="758.1"/></g>
<clipPath id="c7"><polygon points="1265.0,835.6 1319.7,757.5 1319.7,888.8 1252.5,957.5 1208.8,957.5 1252.5,888.8"/></clipPath><g clip-path="url(#c7)" stroke="#000" stroke-width="5.2" stroke-linecap="round"><line x1="1096.5" y1="878.0" x2="1244.4" y2="690.6"/><line x1="1101.8" y1="882.1" x2="1248.8" y2="694.0"/><line x1="1107.0" y1="886.1" x2="1253.0" y2="697.3"/><line x1="1111.9" y1="890.0" x2="1258.4" y2="701.5"/><line x1="1116.2" y1="893.3" x2="1264.7" y2="706.4"/><line x1="1121.7" y1="897.6" x2="1269.2" y2="709.9"/><line x1="1127.8" y1="902.4" x2="1274.5" y2="714.1"/><line x1="1132.2" y1="905.8" x2="1279.5" y2="718.0"/><line x1="1137.8" y1="910.2" x2="1285.2" y2="722.4"/><line x1="1142.0" y1="913.5" x2="1289.9" y2="726.1"/><line x1="1147.4" y1="917.7" x2="1294.4" y2="729.7"/><line x1="1153.5" y1="922.5" x2="1300.0" y2="734.0"/><line x1="1158.3" y1="926.2" x2="1305.6" y2="738.4"/><line x1="1164.1" y1="930.7" x2="1310.1" y2="741.9"/><line x1="1168.6" y1="934.3" x2="1315.4" y2="746.0"/><line x1="1173.5" y1="938.1" x2="1320.8" y2="750.3"/><line x1="1178.5" y1="942.0" x2="1325.7" y2="754.0"/><line x1="1183.7" y1="946.1" x2="1331.6" y2="758.6"/><line x1="1189.3" y1="950.4" x2="1336.6" y2="762.6"/><line x1="1194.8" y1="954.8" x2="1340.5" y2="765.6"/><line x1="1199.2" y1="958.2" x2="1346.9" y2="770.7"/><line x1="1204.9" y1="962.6" x2="1350.5" y2="773.5"/><line x1="1208.7" y1="965.6" x2="1356.2" y2="777.9"/><line x1="1213.7" y1="969.5" x2="1361.0" y2="781.6"/><line x1="1218.8" y1="973.5" x2="1366.9" y2="786.3"/><line x1="1225.3" y1="978.5" x2="1372.5" y2="790.6"/><line x1="1229.2" y1="981.6" x2="1377.2" y2="794.3"/><line x1="1235.3" y1="986.4" x2="1381.3" y2="797.5"/><line x1="1240.8" y1="990.7" x2="1388.0" y2="802.7"/><line x1="1244.7" y1="993.7" x2="1393.0" y2="806.7"/><line x1="1250.2" y1="998.0" x2="1397.3" y2="810.0"/><line x1="1256.4" y1="1002.9" x2="1403.1" y2="814.5"/><line x1="1260.0" y1="1005.6" x2="1407.4" y2="817.9"/><line x1="1265.7" y1="1010.2" x2="1412.4" y2="821.8"/><line x1="1270.3" y1="1013.7" x2="1417.5" y2="825.8"/><line x1="1276.4" y1="1018.5" x2="1422.0" y2="829.3"/><line x1="1281.2" y1="1022.2" x2="1427.9" y2="833.9"/></g>
<clipPath id="c8"><polygon points="1252.5,957.5 1319.7,888.8 1346.2,882.5 1346.2,957.5"/></clipPath><g clip-path="url(#c8)" stroke="#000" stroke-width="5.6" stroke-linecap="round"><line x1="1215.1" y1="958.5" x2="1260.2" y2="836.5"/><line x1="1222.8" y1="961.3" x2="1267.1" y2="839.1"/><line x1="1228.4" y1="963.4" x2="1274.6" y2="841.8"/><line x1="1236.3" y1="966.2" x2="1281.1" y2="844.2"/><line x1="1241.6" y1="968.2" x2="1286.4" y2="846.1"/><line x1="1248.1" y1="970.5" x2="1293.9" y2="848.8"/><line x1="1255.1" y1="973.1" x2="1299.3" y2="850.8"/><line x1="1261.9" y1="975.6" x2="1307.3" y2="853.7"/><line x1="1269.2" y1="978.2" x2="1312.7" y2="855.6"/><line x1="1274.6" y1="980.2" x2="1320.5" y2="858.5"/><line x1="1281.9" y1="982.9" x2="1326.7" y2="860.7"/><line x1="1287.6" y1="984.9" x2="1332.0" y2="862.7"/><line x1="1295.3" y1="987.7" x2="1339.3" y2="865.3"/><line x1="1300.7" y1="989.7" x2="1346.8" y2="868.1"/><line x1="1308.4" y1="992.5" x2="1353.2" y2="870.4"/><line x1="1313.9" y1="994.5" x2="1359.8" y2="872.8"/><line x1="1320.5" y1="996.9" x2="1366.4" y2="875.2"/><line x1="1327.8" y1="999.5" x2="1372.0" y2="877.2"/><line x1="1334.5" y1="1002.0" x2="1379.7" y2="880.0"/></g>
<clipPath id="c9"><polygon points="1319.7,701.2 1330.6,699.7 1319.7,751.2"/></clipPath><g clip-path="url(#c9)" stroke="#000" stroke-width="2.5" stroke-linecap="round"><line x1="1336.6" y1="682.6" x2="1368.0" y2="736.9"/><line x1="1332.3" y1="685.1" x2="1363.7" y2="739.4"/><line x1="1328.0" y1="687.6" x2="1359.3" y2="741.9"/><line x1="1323.6" y1="690.1" x2="1355.0" y2="744.4"/><line x1="1319.3" y1="692.6" x2="1350.7" y2="746.9"/><line x1="1315.0" y1="695.1" x2="1346.3" y2="749.4"/><line x1="1310.7" y1="697.6" x2="1342.0" y2="751.9"/><line x1="1306.3" y1="700.1" x2="1337.7" y2="754.4"/><line x1="1302.0" y1="702.6" x2="1333.3" y2="756.9"/><line x1="1297.7" y1="705.1" x2="1329.0" y2="759.4"/><line x1="1293.3" y1="707.6" x2="1324.7" y2="761.9"/><line x1="1289.0" y1="710.1" x2="1320.4" y2="764.4"/><line x1="1284.7" y1="712.6" x2="1316.0" y2="766.9"/></g>
<clipPath id="c10"><polygon points="1346.2,882.5 1419.7,866.9 1419.7,957.5 1346.2,957.5"/></clipPath><g clip-path="url(#c10)" stroke="#000" stroke-width="5.4" stroke-linecap="round"><line x1="1427.8" y1="834.6" x2="1459.6" y2="957.2"/><line x1="1420.8" y1="836.5" x2="1453.3" y2="958.9"/><line x1="1412.7" y1="838.7" x2="1444.6" y2="961.2"/><line x1="1406.5" y1="840.3" x2="1437.8" y2="963.0"/><line x1="1398.2" y1="842.6" x2="1431.2" y2="964.8"/><line x1="1391.8" y1="844.3" x2="1424.7" y2="966.6"/><line x1="1385.6" y1="845.9" x2="1418.1" y2="968.3"/><line x1="1378.3" y1="847.9" x2="1409.1" y2="970.7"/><line x1="1370.5" y1="850.0" x2="1403.5" y2="972.2"/><line x1="1363.7" y1="851.8" x2="1394.3" y2="974.7"/><line x1="1354.2" y1="854.3" x2="1387.6" y2="976.5"/><line x1="1348.7" y1="855.8" x2="1381.6" y2="978.1"/><line x1="1341.4" y1="857.8" x2="1373.7" y2="980.2"/><line x1="1334.6" y1="859.6" x2="1366.5" y2="982.2"/><line x1="1327.0" y1="861.6" x2="1357.8" y2="984.5"/><line x1="1317.7" y1="864.1" x2="1351.7" y2="986.1"/><line x1="1312.6" y1="865.5" x2="1343.3" y2="988.4"/></g>
<clipPath id="c11"><polygon points="1110.0,920.0 1420.0,920.0 1420.0,960.0 1110.0,960.0"/></clipPath><g clip-path="url(#c11)" stroke="#000" stroke-width="2.6" stroke-linecap="round"><line x1="1047.6" y1="1010.2" x2="1194.1" y2="722.9"/><line x1="1052.1" y1="1012.5" x2="1199.5" y2="725.6"/><line x1="1058.7" y1="1015.9" x2="1205.2" y2="728.5"/><line x1="1063.3" y1="1018.2" x2="1210.6" y2="731.3"/><line x1="1068.1" y1="1020.7" x2="1215.3" y2="733.6"/><line x1="1073.7" y1="1023.5" x2="1221.0" y2="736.6"/><line x1="1078.9" y1="1026.2" x2="1225.3" y2="738.8"/><line x1="1085.0" y1="1029.3" x2="1231.2" y2="741.8"/><line x1="1091.1" y1="1032.4" x2="1237.4" y2="744.9"/><line x1="1096.9" y1="1035.3" x2="1243.1" y2="747.8"/><line x1="1102.1" y1="1038.0" x2="1249.0" y2="750.8"/><line x1="1106.6" y1="1040.3" x2="1252.9" y2="752.8"/><line x1="1113.5" y1="1043.8" x2="1257.7" y2="755.3"/><line x1="1118.2" y1="1046.2" x2="1264.4" y2="758.7"/><line x1="1121.7" y1="1048.0" x2="1270.3" y2="761.7"/><line x1="1129.3" y1="1051.9" x2="1275.0" y2="764.1"/><line x1="1134.2" y1="1054.4" x2="1280.9" y2="767.1"/><line x1="1138.0" y1="1056.3" x2="1285.5" y2="769.4"/><line x1="1144.3" y1="1059.5" x2="1291.6" y2="772.6"/><line x1="1150.5" y1="1062.7" x2="1297.0" y2="775.3"/><line x1="1155.2" y1="1065.1" x2="1302.5" y2="778.1"/><line x1="1160.8" y1="1067.9" x2="1307.3" y2="780.5"/><line x1="1165.0" y1="1070.0" x2="1310.9" y2="782.4"/><line x1="1170.1" y1="1072.6" x2="1317.1" y2="785.5"/><line x1="1175.3" y1="1075.3" x2="1323.7" y2="788.9"/><line x1="1181.9" y1="1078.7" x2="1328.5" y2="791.3"/><line x1="1187.4" y1="1081.5" x2="1334.0" y2="794.1"/><line x1="1192.4" y1="1084.0" x2="1337.5" y2="795.9"/><line x1="1198.6" y1="1087.2" x2="1344.9" y2="799.7"/><line x1="1203.1" y1="1089.5" x2="1349.6" y2="802.1"/><line x1="1208.9" y1="1092.4" x2="1353.7" y2="804.2"/><line x1="1214.4" y1="1095.2" x2="1359.6" y2="807.2"/><line x1="1218.0" y1="1097.1" x2="1365.0" y2="809.9"/><line x1="1225.1" y1="1100.7" x2="1370.1" y2="812.6"/><line x1="1230.5" y1="1103.4" x2="1377.6" y2="816.3"/><line x1="1235.2" y1="1105.8" x2="1381.3" y2="818.3"/><line x1="1240.5" y1="1108.5" x2="1387.5" y2="821.4"/><line x1="1246.6" y1="1111.6" x2="1392.6" y2="824.0"/><line x1="1251.6" y1="1114.2" x2="1396.5" y2="826.0"/><line x1="1255.6" y1="1116.2" x2="1402.4" y2="829.0"/><line x1="1262.6" y1="1119.8" x2="1407.8" y2="831.8"/><line x1="1267.4" y1="1122.3" x2="1412.4" y2="834.1"/><line x1="1271.4" y1="1124.3" x2="1418.4" y2="837.2"/><line x1="1278.4" y1="1127.8" x2="1424.9" y2="840.5"/><line x1="1283.8" y1="1130.6" x2="1429.2" y2="842.6"/><line x1="1288.7" y1="1133.1" x2="1435.0" y2="845.6"/><line x1="1293.9" y1="1135.7" x2="1439.4" y2="847.9"/><line x1="1300.4" y1="1139.0" x2="1445.0" y2="850.7"/><line x1="1306.0" y1="1141.9" x2="1452.3" y2="854.4"/><line x1="1308.7" y1="1143.3" x2="1456.4" y2="856.5"/><line x1="1316.2" y1="1147.1" x2="1463.1" y2="859.9"/><line x1="1320.6" y1="1149.3" x2="1466.5" y2="861.7"/><line x1="1325.3" y1="1151.7" x2="1473.7" y2="865.3"/><line x1="1330.6" y1="1154.5" x2="1478.1" y2="867.6"/></g>
</g>
<clipPath id="c12"><rect x="640" y="960.5" width="160" height="49.5"/></clipPath><g clip-path="url(#c12)">
<rect x="680" y="957.2" width="34" height="40.8" fill="none" stroke="#000" stroke-width="2.7"/>
<rect x="748.9" y="957.2" width="34" height="40.8" fill="none" stroke="#000" stroke-width="2.7"/>
</g>
<circle cx="726.75" cy="1142" r="12.5" fill="none" stroke="#000" stroke-width="7.8"/><line x1="706.25" y1="1142" x2="747.25" y2="1142" stroke="#000" stroke-width="2.7"/><line x1="726.75" y1="1121.5" x2="726.75" y2="1162.5" stroke="#000" stroke-width="2.7"/>
<circle cx="726.75" cy="1256.25" r="12.5" fill="none" stroke="#000" stroke-width="7.8"/>
<rect x="747.25" y="1259.4" width="36" height="42" fill="#000"/>
<polyline fill="none" stroke="#000" stroke-width="7.8" stroke-linecap="round" stroke-linejoin="round" points="799.9,1036.8 799.6,1036.4 799.4,1036.1 799.1,1035.7 798.9,1035.4 798.7,1035.0 798.5,1034.6 798.3,1034.2 798.1,1033.8 797.9,1033.4 797.8,1033.0 797.6,1032.6 797.5,1032.2 797.4,1031.8 797.3,1031.3 797.2,1030.9 797.1,1030.5 797.1,1030.1 797.0,1029.6 797.0,1029.2 797.0,1028.8 797.0,1028.3 797.0,1027.9 797.1,1027.4 797.1,1027.0 797.2,1026.6 797.3,1026.2 797.4,1025.7 797.5,1025.3 797.6,1024.9 797.8,1024.5 797.9,1024.1 798.1,1023.7 798.3,1023.3 798.5,1022.9 798.7,1022.5 798.9,1022.1 799.1,1021.8 799.4,1021.4 799.6,1021.1 799.9,1020.7"/>
<polyline fill="none" stroke="#000" stroke-width="7.8" stroke-linecap="round" stroke-linejoin="round" points="799.9,1150.0 799.6,1149.7 799.4,1149.3 799.1,1149.0 798.9,1148.6 798.7,1148.2 798.5,1147.9 798.3,1147.5 798.1,1147.1 797.9,1146.7 797.8,1146.3 797.6,1145.9 797.5,1145.4 797.4,1145.0 797.3,1144.6 797.2,1144.2 797.1,1143.7 797.1,1143.3 797.0,1142.9 797.0,1142.4 797.0,1142.0 797.0,1141.6 797.0,1141.1 797.1,1140.7 797.1,1140.3 797.2,1139.8 797.3,1139.4 797.4,1139.0 797.5,1138.6 797.6,1138.1 797.8,1137.7 797.9,1137.3 798.1,1136.9 798.3,1136.5 798.5,1136.1 798.7,1135.8 798.9,1135.4 799.1,1135.0 799.4,1134.7 799.6,1134.3 799.9,1134.0"/>
<polyline fill="none" stroke="#000" stroke-width="7.8" stroke-linecap="round" stroke-linejoin="round" points="799.9,1264.3 799.6,1263.9 799.4,1263.6 799.1,1263.2 798.9,1262.9 798.7,1262.5 798.5,1262.1 798.3,1261.7 798.1,1261.3 797.9,1260.9 797.8,1260.5 797.6,1260.1 797.5,1259.7 797.4,1259.3 797.3,1258.8 797.2,1258.4 797.1,1258.0 797.1,1257.6 797.0,1257.1 797.0,1256.7 797.0,1256.2 797.0,1255.8 797.0,1255.4 797.1,1254.9 797.1,1254.5 797.2,1254.1 797.3,1253.7 797.4,1253.2 797.5,1252.8 797.6,1252.4 797.8,1252.0 797.9,1251.6 798.1,1251.2 798.3,1250.8 798.5,1250.4 798.7,1250.0 798.9,1249.6 799.1,1249.3 799.4,1248.9 799.6,1248.6 799.9,1248.2"/>
<line x1="789.0" y1="1256.2" x2="799.2" y2="1256.2" stroke="#000" stroke-width="2.7"/>
<clipPath id="c13"><rect x="955" y="1020" width="156" height="205"/></clipPath><g clip-path="url(#c13)">
<polyline fill="none" stroke="#000" stroke-width="3.5" stroke-linejoin="round" stroke-linecap="round" points="1110.0,1025.0 999.1,1058.0 1110.0,1034.4 997.2,1063.9 1110.0,1043.8 995.3,1069.8 1110.0,1053.1 993.4,1075.8 1110.0,1062.5 991.6,1081.7 1110.0,1071.9 989.7,1087.7 1110.0,1081.2 987.8,1093.6 1110.0,1090.6 985.9,1099.5 1110.0,1100.0 985.0,1102.5"/>
<polyline fill="none" stroke="#000" stroke-width="4.5" stroke-linejoin="round" stroke-linecap="round" points="1110.0,1100.0 989.9,1104.9 1110.0,1105.0 994.7,1109.7 1110.0,1110.0 999.5,1114.5 1110.0,1115.0 1004.3,1119.3 1110.0,1120.0 1009.1,1124.1 1110.0,1125.0 1013.9,1128.9 1110.0,1130.0 1018.8,1133.8 1110.0,1135.0 1023.6,1138.6 1110.0,1140.0 1028.4,1143.4 1110.0,1145.0 1033.2,1148.2 1110.0,1150.0 1038.0,1153.0 1110.0,1155.0 1042.8,1157.8 1110.0,1160.0 1047.6,1162.6 1110.0,1165.0 1050.0,1165.0"/>
<polyline fill="none" stroke="#000" stroke-width="3" stroke-linejoin="round" stroke-linecap="round" points="1110.0,1165.0 1055.5,1170.5 1110.0,1176.5 1066.5,1181.5 1110.0,1188.0 1077.5,1192.5 1110.0,1199.5 1088.5,1203.5 1110.0,1211.0 1099.5,1214.5 1110.0,1222.5 1105.0,1220.0"/>
</g>
<circle cx="973.75" cy="1256.25" r="12.5" fill="none" stroke="#000" stroke-width="7.8"/>
<circle cx="1056.25" cy="1256.25" r="12.5" fill="none" stroke="#000" stroke-width="7.8"/><line x1="1041.75" y1="1241.75" x2="1070.75" y2="1270.75" stroke="#000" stroke-width="2.7"/><line x1="1041.75" y1="1270.75" x2="1070.75" y2="1241.75" stroke="#000" stroke-width="2.7"/>
<clipPath id="c14"><rect x="955" y="1200" width="154" height="110"/></clipPath><g clip-path="url(#c14)">
<rect x="953" y="1259.4" width="36" height="42" fill="#000"/>
<rect x="1021.75" y="1259.4" width="36" height="42" fill="#000"/>
<rect x="1090.5" y="1259.4" width="36" height="42" fill="#000"/>
</g>
<clipPath id="c15"><rect x="953" y="1216" width="156" height="14"/></clipPath><g clip-path="url(#c15)">
<rect x="954.75" y="1184.1" width="34" height="40.8" fill="none" stroke="#000" stroke-width="2.7"/>
</g>
<clipPath id="c16"><rect x="1000" y="1220" width="109" height="10"/></clipPath><g clip-path="url(#c16)">
<rect x="1023.25" y="1184.1" width="34" height="40.8" fill="none" stroke="#000" stroke-width="2.7"/>
<rect x="1092" y="1184.1" width="34" height="40.8" fill="none" stroke="#000" stroke-width="2.7"/>
</g>
<clipPath id="c17"><rect x="1110" y="960" width="301" height="260"/></clipPath><g clip-path="url(#c17)">
<rect x="1091.5" y="956.2" width="36" height="42" fill="#000"/>
<rect x="1161.25" y="956.8" width="34" height="40.8" fill="none" stroke="#000" stroke-width="2.7"/>
<rect x="1230" y="956.8" width="34" height="40.8" fill="none" stroke="#000" stroke-width="2.7"/>
<rect x="1298.75" y="956.8" width="34" height="40.8" fill="none" stroke="#000" stroke-width="2.7"/>
<rect x="1366.5" y="956.2" width="36" height="42" fill="#000"/>
<rect x="1092.5" y="1032.7" width="34" height="40.8" fill="none" stroke="#000" stroke-width="2.7"/>
<rect x="1160.25" y="1032.1" width="36" height="42" fill="#000"/>
<rect x="1230" y="1032.7" width="34" height="40.8" fill="none" stroke="#000" stroke-width="2.7"/>
<rect x="1298.75" y="1032.7" width="34" height="40.8" fill="none" stroke="#000" stroke-width="2.7"/>
<rect x="1366.5" y="1032.1" width="36" height="42" fill="#000"/>
<rect x="1091.5" y="1108" width="36" height="42" fill="#000"/>
<rect x="1160.25" y="1108" width="36" height="42" fill="#000"/>
<rect x="1229" y="1108" width="36" height="42" fill="#000"/>
<rect x="1297.75" y="1108" width="36" height="42" fill="#000"/>
<rect x="1367.5" y="1108.6" width="34" height="40.8" fill="none" stroke="#000" stroke-width="2.7"/>
<rect x="1091.5" y="1183.9" width="36" height="42" fill="#000"/>
<rect x="1297.75" y="1183.9" width="36" height="42" fill="#000"/>
<rect x="1366.5" y="1183.9" width="36" height="42" fill="#000"/>
<circle cx="1138.5" cy="1028.8" r="12.5" fill="none" stroke="#000" stroke-width="7.8"/><line x1="1118" y1="1028.8" x2="1159" y2="1028.8" stroke="#000" stroke-width="2.7"/>
<circle cx="1220.75" cy="1028.8" r="12.5" fill="none" stroke="#000" stroke-width="7.8"/><line x1="1206.25" y1="1014.3" x2="1235.25" y2="1043.3" stroke="#000" stroke-width="2.7"/><line x1="1206.25" y1="1043.3" x2="1235.25" y2="1014.3" stroke="#000" stroke-width="2.7"/>
<circle cx="1385.25" cy="1028.8" r="12.5" fill="none" stroke="#000" stroke-width="7.8"/><line x1="1364.75" y1="1028.8" x2="1405.75" y2="1028.8" stroke="#000" stroke-width="2.7"/><line x1="1385.25" y1="1008.3" x2="1385.25" y2="1049.3" stroke="#000" stroke-width="2.7"/>
<circle cx="1138.5" cy="1142.4" r="12.5" fill="none" stroke="#000" stroke-width="7.8"/><line x1="1118" y1="1142.4" x2="1159" y2="1142.4" stroke="#000" stroke-width="2.7"/><line x1="1138.5" y1="1121.9" x2="1138.5" y2="1162.9" stroke="#000" stroke-width="2.7"/>
<circle cx="1220.75" cy="1142.4" r="12.5" fill="none" stroke="#000" stroke-width="7.8"/>
<circle cx="1385.25" cy="1142.4" r="12.5" fill="none" stroke="#000" stroke-width="7.8"/><line x1="1364.75" y1="1142.4" x2="1405.75" y2="1142.4" stroke="#000" stroke-width="2.7"/>
<polygon points="1143.75,987.5 1143.75,1011.5 1164.75,999.5" fill="#000" stroke="#000" stroke-width="1"/>
<polygon points="1270,988 1270,1012 1249,1000" fill="#000" stroke="#000" stroke-width="1"/>
<polygon points="1356.25,988 1356.25,1012 1335.25,1000" fill="#000" stroke="#000" stroke-width="1"/>
<polygon points="1255,1169.25 1255,1193.25 1276,1181.25" fill="#000" stroke="#000" stroke-width="1"/>
<polygon points="1382.5,1169.25 1382.5,1193.25 1361.5,1181.25" fill="#000" stroke="#000" stroke-width="1"/>
</g>
<clipPath id="c18"><rect x="1110" y="1215" width="311" height="265"/></clipPath><g clip-path="url(#c18)">
</g>
<clipPath id="c19"><rect x="1108.5" y="1300" width="91.5" height="140"/></clipPath><g clip-path="url(#c19)">
</g>
<clipPath id="c20"><rect x="1080" y="1320" width="28.75" height="80"/></clipPath><g clip-path="url(#c20)">
<rect x="1091.5" y="1335.7" width="36" height="42" fill="#000"/>
</g>
<clipPath id="c21"><rect x="797" y="1236" width="158.5" height="246"/></clipPath><g clip-path="url(#c21)">
</g>
<rect x="748.75" y="1336.3" width="34" height="40.8" fill="none" stroke="#000" stroke-width="2.7"/>
<clipPath id="c22"><rect x="955" y="1320" width="154" height="160"/></clipPath><g clip-path="url(#c22)">
<rect x="954" y="1335.7" width="36" height="42" fill="#000"/>
<circle cx="974" cy="1369.6" r="12.5" fill="none" stroke="#000" stroke-width="7.8"/><line x1="953.5" y1="1369.6" x2="994.5" y2="1369.6" stroke="#000" stroke-width="2.7"/>
<circle cx="1056.25" cy="1369.6" r="12.5" fill="none" stroke="#000" stroke-width="7.8"/><line x1="1035.75" y1="1369.6" x2="1076.75" y2="1369.6" stroke="#000" stroke-width="2.7"/>
<rect x="955" y="1412.2" width="34" height="40.8" fill="none" stroke="#000" stroke-width="2.7"/>
</g>
<polyline fill="none" stroke="#000" stroke-width="7.8" stroke-linecap="round" stroke-linejoin="round" points="963.2,1476.9 963.4,1476.6 963.6,1476.2 963.9,1475.9 964.1,1475.5 964.4,1475.2 964.7,1474.8 965.0,1474.5 965.3,1474.2 965.6,1473.9 966.0,1473.6 966.3,1473.3 966.7,1473.1 967.0,1472.8 967.4,1472.6 967.8,1472.4 968.1,1472.2 968.5,1472.0 968.9,1471.8 969.3,1471.6 969.7,1471.5 970.1,1471.3 970.6,1471.2 971.0,1471.1 971.4,1471.0 971.8,1470.9 972.3,1470.8 972.7,1470.8 973.1,1470.7 973.6,1470.7 974.0,1470.7 974.4,1470.7 974.9,1470.7 975.3,1470.8 975.7,1470.8 976.2,1470.9 976.6,1471.0 977.0,1471.1 977.4,1471.2 977.9,1471.3 978.3,1471.5 978.7,1471.6 979.1,1471.8 979.5,1472.0 979.9,1472.2 980.2,1472.4 980.6,1472.6 981.0,1472.8 981.3,1473.1 981.7,1473.3 982.0,1473.6 982.4,1473.9 982.7,1474.2 983.0,1474.5 983.3,1474.8 983.6,1475.2 983.9,1475.5 984.1,1475.9 984.4,1476.2 984.6,1476.6 984.8,1476.9"/>
<line x1="959.5" y1="1468.7" x2="967.5" y2="1476.7" stroke="#000" stroke-width="2.7"/>
<line x1="980.5" y1="1476.7" x2="988.5" y2="1468.7" stroke="#000" stroke-width="2.7"/>
<polyline fill="none" stroke="#000" stroke-width="7.8" stroke-linecap="round" stroke-linejoin="round" points="1045.4,1476.9 1045.6,1476.6 1045.9,1476.2 1046.1,1475.9 1046.4,1475.5 1046.7,1475.2 1047.0,1474.8 1047.3,1474.5 1047.6,1474.2 1047.9,1473.9 1048.2,1473.6 1048.6,1473.3 1048.9,1473.1 1049.3,1472.8 1049.6,1472.6 1050.0,1472.4 1050.4,1472.2 1050.8,1472.0 1051.2,1471.8 1051.6,1471.6 1052.0,1471.5 1052.4,1471.3 1052.8,1471.2 1053.2,1471.1 1053.7,1471.0 1054.1,1470.9 1054.5,1470.8 1054.9,1470.8 1055.4,1470.7 1055.8,1470.7 1056.2,1470.7 1056.7,1470.7 1057.1,1470.7 1057.6,1470.8 1058.0,1470.8 1058.4,1470.9 1058.8,1471.0 1059.3,1471.1 1059.7,1471.2 1060.1,1471.3 1060.5,1471.5 1060.9,1471.6 1061.3,1471.8 1061.7,1472.0 1062.1,1472.2 1062.5,1472.4 1062.9,1472.6 1063.2,1472.8 1063.6,1473.1 1063.9,1473.3 1064.3,1473.6 1064.6,1473.9 1064.9,1474.2 1065.2,1474.5 1065.5,1474.8 1065.8,1475.2 1066.1,1475.5 1066.4,1475.9 1066.6,1476.2 1066.9,1476.6 1067.1,1476.9"/>
<rect x="817.5" y="1488.1" width="34" height="40.8" fill="none" stroke="#000" stroke-width="2.7"/>
<rect x="886.25" y="1488.1" width="34" height="40.8" fill="none" stroke="#000" stroke-width="2.7"/>
<rect x="816.5" y="1563.4" width="36" height="42" fill="#000"/>
<rect x="885.25" y="1563.4" width="36" height="42" fill="#000"/>
<polyline fill="none" stroke="#000" stroke-width="7.8" stroke-linecap="round" stroke-linejoin="round" points="822.0,1483.2 822.0,1483.6 822.0,1484.1 821.9,1484.5 821.9,1484.9 821.8,1485.4 821.7,1485.8 821.6,1486.2 821.5,1486.6 821.4,1487.1 821.2,1487.5 821.1,1487.9 820.9,1488.3 820.7,1488.7 820.5,1489.1 820.3,1489.4 820.1,1489.8 819.9,1490.2 819.6,1490.5 819.4,1490.9 819.1,1491.2 818.8,1491.6 818.5,1491.9 818.2,1492.2 817.9,1492.5 817.5,1492.8 817.2,1493.1 816.8,1493.3 816.5,1493.6 816.1,1493.8 815.8,1494.0 815.4,1494.2 815.0,1494.4 814.6,1494.6 814.2,1494.8 813.8,1494.9 813.4,1495.1 812.9,1495.2 812.5,1495.3 812.1,1495.4 811.7,1495.5 811.2,1495.6 810.8,1495.6 810.4,1495.7 809.9,1495.7 809.5,1495.7 809.1,1495.7 808.6,1495.7 808.2,1495.6 807.8,1495.6 807.3,1495.5 806.9,1495.4 806.5,1495.3 806.1,1495.2 805.6,1495.1 805.2,1494.9 804.8,1494.8 804.4,1494.6 804.0,1494.4 803.6,1494.2 803.2,1494.0 802.9,1493.8 802.5,1493.6 802.2,1493.3 801.8,1493.1 801.5,1492.8 801.1,1492.5 800.8,1492.2"/>
<line x1="809.5" y1="1483.2" x2="824.0" y2="1497.7" stroke="#000" stroke-width="2.7"/>
<line x1="800.8" y1="1491.9" x2="809.5" y2="1483.2" stroke="#000" stroke-width="2.7"/>
<polyline fill="none" stroke="#000" stroke-width="7.8" stroke-linecap="round" stroke-linejoin="round" points="904.2,1483.2 904.2,1483.6 904.2,1484.1 904.2,1484.5 904.1,1484.9 904.1,1485.4 904.0,1485.8 903.9,1486.2 903.8,1486.6 903.6,1487.1 903.5,1487.5 903.3,1487.9 903.2,1488.3 903.0,1488.7 902.8,1489.1 902.6,1489.4 902.4,1489.8 902.1,1490.2 901.9,1490.5 901.6,1490.9 901.3,1491.2 901.0,1491.6 900.7,1491.9 900.4,1492.2 900.1,1492.5 899.8,1492.8 899.4,1493.1 899.1,1493.3 898.7,1493.6 898.4,1493.8 898.0,1494.0 897.6,1494.2 897.2,1494.4 896.8,1494.6 896.4,1494.8 896.0,1494.9 895.6,1495.1 895.2,1495.2 894.8,1495.3 894.3,1495.4 893.9,1495.5 893.5,1495.6 893.1,1495.6 892.6,1495.7 892.2,1495.7 891.8,1495.7 891.3,1495.7 890.9,1495.7 890.4,1495.6 890.0,1495.6 889.6,1495.5 889.2,1495.4 888.7,1495.3 888.3,1495.2 887.9,1495.1 887.5,1494.9 887.1,1494.8 886.7,1494.6 886.3,1494.4 885.9,1494.2 885.5,1494.0 885.1,1493.8 884.8,1493.6 884.4,1493.3 884.1,1493.1 883.7,1492.8 883.4,1492.5 883.1,1492.2 882.8,1491.9 882.5,1491.6 882.2,1491.2 881.9,1490.9 881.6,1490.5 881.4,1490.2 881.1,1489.8 880.9,1489.4 880.7,1489.1 880.5,1488.7 880.3,1488.3 880.2,1487.9 880.0,1487.5 879.9,1487.1 879.7,1486.6 879.6,1486.2 879.5,1485.8 879.4,1485.4 879.4,1484.9 879.3,1484.5 879.3,1484.1 879.3,1483.6 879.2,1483.2"/>
<polygon points="906.25,1534.25 906.25,1558.25 885.25,1546.25" fill="#000" stroke="#000" stroke-width="1"/>
<polyline fill="none" stroke="#000" stroke-width="7.8" stroke-linecap="round" stroke-linejoin="round" points="646.7,1357.2 647.2,1357.3 647.6,1357.4 648.0,1357.5 648.4,1357.6 648.9,1357.7 649.3,1357.9 649.7,1358.0 650.1,1358.2 650.5,1358.4 650.9,1358.6 651.2,1358.8 651.6,1359.0 652.0,1359.2 652.3,1359.5 652.7,1359.7 653.0,1360.0 653.4,1360.3 653.7,1360.6 654.0,1360.9 654.3,1361.2 654.6,1361.6 654.9,1361.9 655.1,1362.3 655.4,1362.6 655.6,1363.0 655.8,1363.3 656.0,1363.7 656.2,1364.1 656.4,1364.5 656.6,1364.9 656.7,1365.3 656.9,1365.7 657.0,1366.2 657.1,1366.6 657.2,1367.0 657.3,1367.4 657.4,1367.9 657.4,1368.3 657.5,1368.7 657.5,1369.2 657.5,1369.6 657.5,1370.0 657.5,1370.5 657.4,1370.9 657.4,1371.3 657.3,1371.8 657.2,1372.2 657.1,1372.6 657.0,1373.0 656.9,1373.5 656.7,1373.9 656.6,1374.3 656.4,1374.7 656.2,1375.1 656.0,1375.5 655.8,1375.8 655.6,1376.2 655.4,1376.6 655.1,1376.9 654.9,1377.3 654.6,1377.6 654.3,1378.0 654.0,1378.3 653.7,1378.6 653.4,1378.9 653.0,1379.2 652.7,1379.5 652.3,1379.7 652.0,1380.0 651.6,1380.2 651.2,1380.4 650.9,1380.6 650.5,1380.8 650.1,1381.0 649.7,1381.2 649.3,1381.3 648.9,1381.5 648.4,1381.6 648.0,1381.7 647.6,1381.8 647.2,1381.9 646.7,1382.0"/>
<polyline fill="none" stroke="#000" stroke-width="7.8" stroke-linecap="round" stroke-linejoin="round" points="646.7,1470.8 647.2,1470.9 647.6,1471.0 648.0,1471.1 648.4,1471.2 648.9,1471.3 649.3,1471.5 649.7,1471.6 650.1,1471.8 650.5,1472.0 650.9,1472.2 651.2,1472.4 651.6,1472.6 652.0,1472.8 652.3,1473.1 652.7,1473.3 653.0,1473.6 653.4,1473.9 653.7,1474.2 654.0,1474.5 654.3,1474.8 654.6,1475.2 654.9,1475.5 655.1,1475.9 655.4,1476.2 655.6,1476.6 655.8,1476.9"/>
<circle cx="727.25" cy="1369.6" r="12.5" fill="none" stroke="#000" stroke-width="7.8"/>
<polyline fill="none" stroke="#000" stroke-width="7.8" stroke-linecap="round" stroke-linejoin="round" points="716.4,1476.9 716.6,1476.6 716.9,1476.2 717.1,1475.9 717.4,1475.5 717.7,1475.2 718.0,1474.8 718.3,1474.5 718.6,1474.2 718.9,1473.9 719.2,1473.6 719.6,1473.3 719.9,1473.1 720.3,1472.8 720.6,1472.6 721.0,1472.4 721.4,1472.2 721.8,1472.0 722.2,1471.8 722.6,1471.6 723.0,1471.5 723.4,1471.3 723.8,1471.2 724.2,1471.1 724.7,1471.0 725.1,1470.9 725.5,1470.8 725.9,1470.8 726.4,1470.7 726.8,1470.7 727.2,1470.7 727.7,1470.7 728.1,1470.7 728.6,1470.8 729.0,1470.8 729.4,1470.9 729.8,1471.0 730.3,1471.1 730.7,1471.2 731.1,1471.3 731.5,1471.5 731.9,1471.6 732.3,1471.8 732.7,1472.0 733.1,1472.2 733.5,1472.4 733.9,1472.6 734.2,1472.8 734.6,1473.1 734.9,1473.3 735.3,1473.6 735.6,1473.9 735.9,1474.2 736.2,1474.5 736.5,1474.8 736.8,1475.2 737.1,1475.5 737.4,1475.9 737.6,1476.2 737.9,1476.6 738.1,1476.9"/>
<clipPath id="c23"><rect x="798" y="1479" width="158" height="513"/></clipPath><g clip-path="url(#c23)">
<rect x="816.5" y="1639.3" width="36" height="42" fill="#000"/>
<rect x="885.25" y="1639.3" width="36" height="42" fill="#000"/>
<rect x="817.5" y="1715.8" width="34" height="40.8" fill="none" stroke="#000" stroke-width="2.7"/>
<rect x="885.25" y="1715.2" width="36" height="42" fill="#000"/>
<rect x="816.5" y="1791.1" width="36" height="42" fill="#000"/>
<rect x="886.25" y="1791.7" width="34" height="40.8" fill="none" stroke="#000" stroke-width="2.7"/>
<rect x="816.5" y="1867" width="36" height="42" fill="#000"/>
<rect x="886.25" y="1867.6" width="34" height="40.8" fill="none" stroke="#000" stroke-width="2.7"/>
</g>
<polyline fill="none" stroke="#000" stroke-width="7.8" stroke-linecap="round" stroke-linejoin="round" points="800.8,1587.8 801.1,1587.5 801.5,1587.2 801.8,1586.9 802.2,1586.7 802.5,1586.4 802.9,1586.2 803.2,1586.0 803.6,1585.8 804.0,1585.6 804.4,1585.4 804.8,1585.2 805.2,1585.1 805.6,1584.9 806.1,1584.8 806.5,1584.7 806.9,1584.6 807.3,1584.5 807.8,1584.4 808.2,1584.4 808.6,1584.3 809.1,1584.3 809.5,1584.3 809.9,1584.3 810.4,1584.3 810.8,1584.4 811.2,1584.4 811.7,1584.5 812.1,1584.6 812.5,1584.7 812.9,1584.8 813.4,1584.9 813.8,1585.1 814.2,1585.2 814.6,1585.4 815.0,1585.6 815.4,1585.8 815.8,1586.0 816.1,1586.2 816.5,1586.4 816.8,1586.7 817.2,1586.9 817.5,1587.2 817.9,1587.5 818.2,1587.8 818.5,1588.1 818.8,1588.4 819.1,1588.8 819.4,1589.1 819.6,1589.5 819.9,1589.8 820.1,1590.2 820.3,1590.5 820.5,1590.9 820.7,1591.3 820.9,1591.7 821.1,1592.1 821.2,1592.5 821.4,1592.9 821.5,1593.4 821.6,1593.8 821.7,1594.2 821.8,1594.6 821.9,1595.1 821.9,1595.5 822.0,1595.9 822.0,1596.4 822.0,1596.8 822.0,1597.2 822.0,1597.7 821.9,1598.1 821.9,1598.5 821.8,1599.0 821.7,1599.4 821.6,1599.8 821.5,1600.2 821.4,1600.7 821.2,1601.1 821.1,1601.5 820.9,1601.9 820.7,1602.3 820.5,1602.7 820.3,1603.0 820.1,1603.4 819.9,1603.8 819.6,1604.1 819.4,1604.5 819.1,1604.8 818.8,1605.2 818.5,1605.5 818.2,1605.8 817.9,1606.1 817.5,1606.4 817.2,1606.7 816.8,1606.9 816.5,1607.2 816.1,1607.4 815.8,1607.6 815.4,1607.8 815.0,1608.0 814.6,1608.2 814.2,1608.4 813.8,1608.5 813.4,1608.7 812.9,1608.8 812.5,1608.9 812.1,1609.0 811.7,1609.1 811.2,1609.2 810.8,1609.2 810.4,1609.3 809.9,1609.3 809.5,1609.3 809.1,1609.3 808.6,1609.3 808.2,1609.2 807.8,1609.2 807.3,1609.1 806.9,1609.0 806.5,1608.9 806.1,1608.8 805.6,1608.7 805.2,1608.5 804.8,1608.4 804.4,1608.2 804.0,1608.0 803.6,1607.8 803.2,1607.6 802.9,1607.4 802.5,1607.2 802.2,1606.9 801.8,1606.7 801.5,1606.4 801.1,1606.1 800.8,1605.8"/>
<polyline fill="none" stroke="#000" stroke-width="7.8" stroke-linecap="round" stroke-linejoin="round" points="800.8,1701.4 801.1,1701.1 801.5,1700.8 801.8,1700.5 802.2,1700.3 802.5,1700.0 802.9,1699.8 803.2,1699.6 803.6,1699.4 804.0,1699.2 804.4,1699.0 804.8,1698.8 805.2,1698.7 805.6,1698.5 806.1,1698.4 806.5,1698.3 806.9,1698.2 807.3,1698.1 807.8,1698.0 808.2,1698.0 808.6,1697.9 809.1,1697.9 809.5,1697.9 809.9,1697.9 810.4,1697.9 810.8,1698.0 811.2,1698.0 811.7,1698.1 812.1,1698.2 812.5,1698.3 812.9,1698.4 813.4,1698.5 813.8,1698.7 814.2,1698.8 814.6,1699.0 815.0,1699.2 815.4,1699.4 815.8,1699.6 816.1,1699.8 816.5,1700.0 816.8,1700.3 817.2,1700.5 817.5,1700.8 817.9,1701.1 818.2,1701.4 818.5,1701.7 818.8,1702.0 819.1,1702.4 819.4,1702.7 819.6,1703.1 819.9,1703.4 820.1,1703.8 820.3,1704.2 820.5,1704.5 820.7,1704.9 820.9,1705.3 821.1,1705.7 821.2,1706.1 821.4,1706.5 821.5,1707.0 821.6,1707.4 821.7,1707.8 821.8,1708.2 821.9,1708.7 821.9,1709.1 822.0,1709.5 822.0,1710.0 822.0,1710.4 822.0,1710.8 822.0,1711.3 821.9,1711.7 821.9,1712.1 821.8,1712.6 821.7,1713.0 821.6,1713.4 821.5,1713.8 821.4,1714.3 821.2,1714.7 821.1,1715.1 820.9,1715.5 820.7,1715.9 820.5,1716.3 820.3,1716.7 820.1,1717.0 819.9,1717.4 819.6,1717.7 819.4,1718.1 819.1,1718.4 818.8,1718.8 818.5,1719.1 818.2,1719.4 817.9,1719.7 817.5,1720.0 817.2,1720.3 816.8,1720.5 816.5,1720.8 816.1,1721.0 815.8,1721.2 815.4,1721.4 815.0,1721.6 814.6,1721.8 814.2,1722.0 813.8,1722.1 813.4,1722.3 812.9,1722.4 812.5,1722.5 812.1,1722.6 811.7,1722.7 811.2,1722.8 810.8,1722.8 810.4,1722.9 809.9,1722.9 809.5,1722.9 809.1,1722.9 808.6,1722.9 808.2,1722.8 807.8,1722.8 807.3,1722.7 806.9,1722.6 806.5,1722.5 806.1,1722.4 805.6,1722.3 805.2,1722.1 804.8,1722.0 804.4,1721.8 804.0,1721.6 803.6,1721.4 803.2,1721.2 802.9,1721.0 802.5,1720.8 802.2,1720.5 801.8,1720.3 801.5,1720.0 801.1,1719.7 800.8,1719.4"/>
<line x1="801.3" y1="1710.4" x2="830.0" y2="1710.4" stroke="#000" stroke-width="2.7"/>
<line x1="809.5" y1="1689.9" x2="809.5" y2="1730.9" stroke="#000" stroke-width="2.7"/>
<polyline fill="none" stroke="#000" stroke-width="7.8" stroke-linecap="round" stroke-linejoin="round" points="800.8,1815.0 801.1,1814.7 801.5,1814.4 801.8,1814.1 802.2,1813.9 802.5,1813.6 802.9,1813.4 803.2,1813.2 803.6,1813.0 804.0,1812.8 804.4,1812.6 804.8,1812.4 805.2,1812.3 805.6,1812.1 806.1,1812.0 806.5,1811.9 806.9,1811.8 807.3,1811.7 807.8,1811.6 808.2,1811.6 808.6,1811.5 809.1,1811.5 809.5,1811.5 809.9,1811.5 810.4,1811.5 810.8,1811.6 811.2,1811.6 811.7,1811.7 812.1,1811.8 812.5,1811.9 812.9,1812.0 813.4,1812.1 813.8,1812.3 814.2,1812.4 814.6,1812.6 815.0,1812.8 815.4,1813.0 815.8,1813.2 816.1,1813.4 816.5,1813.6 816.8,1813.9 817.2,1814.1 817.5,1814.4 817.9,1814.7 818.2,1815.0 818.5,1815.3 818.8,1815.6 819.1,1816.0 819.4,1816.3 819.6,1816.7 819.9,1817.0 820.1,1817.4 820.3,1817.8 820.5,1818.1 820.7,1818.5 820.9,1818.9 821.1,1819.3 821.2,1819.7 821.4,1820.1 821.5,1820.6 821.6,1821.0 821.7,1821.4 821.8,1821.8 821.9,1822.3 821.9,1822.7 822.0,1823.1 822.0,1823.6 822.0,1824.0 822.0,1824.4 822.0,1824.9 821.9,1825.3 821.9,1825.7 821.8,1826.2 821.7,1826.6 821.6,1827.0 821.5,1827.4 821.4,1827.9 821.2,1828.3 821.1,1828.7 820.9,1829.1 820.7,1829.5 820.5,1829.9 820.3,1830.2 820.1,1830.6 819.9,1831.0 819.6,1831.3 819.4,1831.7 819.1,1832.0 818.8,1832.4 818.5,1832.7 818.2,1833.0 817.9,1833.3 817.5,1833.6 817.2,1833.9 816.8,1834.1 816.5,1834.4 816.1,1834.6 815.8,1834.8 815.4,1835.0 815.0,1835.2 814.6,1835.4 814.2,1835.6 813.8,1835.7 813.4,1835.9 812.9,1836.0 812.5,1836.1 812.1,1836.2 811.7,1836.3 811.2,1836.4 810.8,1836.4 810.4,1836.5 809.9,1836.5 809.5,1836.5 809.1,1836.5 808.6,1836.5 808.2,1836.4 807.8,1836.4 807.3,1836.3 806.9,1836.2 806.5,1836.1 806.1,1836.0 805.6,1835.9 805.2,1835.7 804.8,1835.6 804.4,1835.4 804.0,1835.2 803.6,1835.0 803.2,1834.8 802.9,1834.6 802.5,1834.4 802.2,1834.1 801.8,1833.9 801.5,1833.6 801.1,1833.3 800.8,1833.0"/>
<polyline fill="none" stroke="#000" stroke-width="7.8" stroke-linecap="round" stroke-linejoin="round" points="800.8,1928.6 801.1,1928.3 801.5,1928.0 801.8,1927.7 802.2,1927.5 802.5,1927.2 802.9,1927.0 803.2,1926.8 803.6,1926.6 804.0,1926.4 804.4,1926.2 804.8,1926.0 805.2,1925.9 805.6,1925.7 806.1,1925.6 806.5,1925.5 806.9,1925.4 807.3,1925.3 807.8,1925.2 808.2,1925.2 808.6,1925.1 809.1,1925.1 809.5,1925.1 809.9,1925.1 810.4,1925.1 810.8,1925.2 811.2,1925.2 811.7,1925.3 812.1,1925.4 812.5,1925.5 812.9,1925.6 813.4,1925.7 813.8,1925.9 814.2,1926.0 814.6,1926.2 815.0,1926.4 815.4,1926.6 815.8,1926.8 816.1,1927.0 816.5,1927.2 816.8,1927.5 817.2,1927.7 817.5,1928.0 817.9,1928.3 818.2,1928.6 818.5,1928.9 818.8,1929.2 819.1,1929.6 819.4,1929.9 819.6,1930.3 819.9,1930.6 820.1,1931.0 820.3,1931.3 820.5,1931.7 820.7,1932.1 820.9,1932.5 821.1,1932.9 821.2,1933.3 821.4,1933.7 821.5,1934.2 821.6,1934.6 821.7,1935.0 821.8,1935.4 821.9,1935.9 821.9,1936.3 822.0,1936.7 822.0,1937.2 822.0,1937.6 822.0,1938.0 822.0,1938.5 821.9,1938.9 821.9,1939.3 821.8,1939.8 821.7,1940.2 821.6,1940.6 821.5,1941.0 821.4,1941.5 821.2,1941.9 821.1,1942.3 820.9,1942.7 820.7,1943.1 820.5,1943.5 820.3,1943.8 820.1,1944.2 819.9,1944.6 819.6,1944.9 819.4,1945.3 819.1,1945.6 818.8,1946.0 818.5,1946.3 818.2,1946.6 817.9,1946.9 817.5,1947.2 817.2,1947.5 816.8,1947.7 816.5,1948.0 816.1,1948.2 815.8,1948.4 815.4,1948.6 815.0,1948.8 814.6,1949.0 814.2,1949.2 813.8,1949.3 813.4,1949.5 812.9,1949.6 812.5,1949.7 812.1,1949.8 811.7,1949.9 811.2,1950.0 810.8,1950.0 810.4,1950.1 809.9,1950.1 809.5,1950.1 809.1,1950.1 808.6,1950.1 808.2,1950.0 807.8,1950.0 807.3,1949.9 806.9,1949.8 806.5,1949.7 806.1,1949.6 805.6,1949.5 805.2,1949.3 804.8,1949.2 804.4,1949.0 804.0,1948.8 803.6,1948.6 803.2,1948.4 802.9,1948.2 802.5,1948.0 802.2,1947.7 801.8,1947.5 801.5,1947.2 801.1,1946.9 800.8,1946.6"/>
<circle cx="891.75" cy="1596.8" r="12.5" fill="none" stroke="#000" stroke-width="7.8"/>
<circle cx="891.75" cy="1710.4" r="12.5" fill="none" stroke="#000" stroke-width="7.8"/>
<circle cx="891.75" cy="1824" r="12.5" fill="none" stroke="#000" stroke-width="7.8"/>
<circle cx="891.75" cy="1937.6" r="12.5" fill="none" stroke="#000" stroke-width="7.8"/>
<polygon points="806.25,1715.5 806.25,1739.5 827.25,1727.5" fill="#000" stroke="#000" stroke-width="1"/>
<polygon points="932.5,1715.5 932.5,1739.5 911.5,1727.5" fill="#000" stroke="#000" stroke-width="1"/>
<clipPath id="c24"><rect x="798" y="1900" width="158" height="92"/></clipPath><g clip-path="url(#c24)">
<rect x="817.5" y="1943.5" width="34" height="40.8" fill="none" stroke="#000" stroke-width="2.7"/>
<rect x="885.25" y="1942.9" width="36" height="42" fill="#000"/>
</g>
<polygon points="918.75,1896 918.75,1920 939.75,1908" fill="#000" stroke="#000" stroke-width="1"/>
<clipPath id="c25"><rect x="1000" y="1560" width="330" height="182"/></clipPath><g clip-path="url(#c25)">
<clipPath id="c26"><polygon points="1108.8,1689.7 1268.1,1678.8 1319.7,1737.5 1108.8,1740.3"/></clipPath><g clip-path="url(#c26)" stroke="#000" stroke-width="3.9" stroke-linecap="round"><line x1="1091.6" y1="1603.2" x2="1320.7" y2="1585.7"/><line x1="1092.0" y1="1607.9" x2="1321.2" y2="1593.1"/><line x1="1092.4" y1="1614.1" x2="1321.6" y2="1598.2"/><line x1="1092.8" y1="1619.6" x2="1321.8" y2="1601.9"/><line x1="1093.0" y1="1622.8" x2="1322.2" y2="1606.9"/><line x1="1093.4" y1="1628.9" x2="1322.6" y2="1613.3"/><line x1="1093.9" y1="1635.1" x2="1323.0" y2="1618.6"/><line x1="1094.2" y1="1639.6" x2="1323.4" y2="1623.9"/><line x1="1094.5" y1="1644.4" x2="1323.7" y2="1628.6"/><line x1="1094.8" y1="1648.5" x2="1324.1" y2="1634.3"/><line x1="1095.2" y1="1654.2" x2="1324.5" y2="1639.8"/><line x1="1095.6" y1="1660.4" x2="1324.8" y2="1643.5"/><line x1="1095.9" y1="1664.3" x2="1325.1" y2="1648.6"/><line x1="1096.4" y1="1670.7" x2="1325.5" y2="1654.8"/><line x1="1096.6" y1="1674.6" x2="1325.8" y2="1658.5"/><line x1="1097.1" y1="1680.8" x2="1326.2" y2="1664.9"/><line x1="1097.4" y1="1685.7" x2="1326.6" y2="1669.3"/><line x1="1097.8" y1="1691.4" x2="1326.9" y2="1673.9"/><line x1="1098.1" y1="1695.9" x2="1327.3" y2="1680.2"/><line x1="1098.6" y1="1702.6" x2="1327.7" y2="1685.8"/><line x1="1098.9" y1="1707.6" x2="1328.0" y2="1690.6"/><line x1="1099.2" y1="1711.3" x2="1328.4" y2="1695.3"/><line x1="1099.7" y1="1718.2" x2="1328.8" y2="1701.5"/><line x1="1099.9" y1="1721.8" x2="1329.1" y2="1705.1"/><line x1="1100.3" y1="1727.4" x2="1329.5" y2="1711.8"/><line x1="1100.7" y1="1732.4" x2="1329.8" y2="1716.0"/><line x1="1101.1" y1="1738.2" x2="1330.3" y2="1722.8"/><line x1="1101.4" y1="1742.4" x2="1330.5" y2="1725.9"/><line x1="1101.7" y1="1747.8" x2="1330.9" y2="1732.0"/><line x1="1102.2" y1="1753.8" x2="1331.3" y2="1736.6"/><line x1="1102.5" y1="1759.3" x2="1331.7" y2="1743.1"/><line x1="1102.9" y1="1763.8" x2="1332.0" y2="1747.0"/><line x1="1103.3" y1="1770.1" x2="1332.4" y2="1752.5"/><line x1="1103.6" y1="1774.9" x2="1332.7" y2="1757.5"/><line x1="1103.9" y1="1778.7" x2="1333.2" y2="1763.9"/><line x1="1104.3" y1="1784.0" x2="1333.6" y2="1769.6"/><line x1="1104.7" y1="1789.7" x2="1333.8" y2="1772.9"/><line x1="1105.0" y1="1794.2" x2="1334.2" y2="1778.7"/><line x1="1105.4" y1="1800.5" x2="1334.7" y2="1785.1"/><line x1="1105.7" y1="1804.4" x2="1334.9" y2="1789.0"/><line x1="1106.1" y1="1809.8" x2="1335.4" y2="1795.6"/><line x1="1106.4" y1="1814.8" x2="1335.6" y2="1798.5"/><line x1="1106.8" y1="1819.8" x2="1336.0" y2="1804.5"/><line x1="1107.3" y1="1827.0" x2="1336.5" y2="1810.9"/><line x1="1107.6" y1="1831.8" x2="1336.8" y2="1816.4"/></g>
<polyline fill="none" stroke="#000" stroke-width="5" stroke-linejoin="round" stroke-linecap="round" points="1050.0,1690.0 1110.0,1682.1 1041.2,1699.6 1110.0,1691.2 1032.5,1709.2 1110.0,1700.4 1023.8,1718.8 1110.0,1709.6 1015.0,1728.3 1110.0,1718.8 1006.2,1737.9 1110.0,1727.9 997.5,1747.5 1110.0,1732.5"/>
</g>
<clipPath id="c27"><rect x="1110" y="1740" width="311" height="246"/></clipPath><g clip-path="url(#c27)">
<rect x="1092.5" y="1715.8" width="34" height="40.8" fill="none" stroke="#000" stroke-width="2.7"/>
<rect x="1161.25" y="1715.8" width="34" height="40.8" fill="none" stroke="#000" stroke-width="2.7"/>
<rect x="1229" y="1715.2" width="36" height="42" fill="#000"/>
<rect x="1298.75" y="1715.8" width="34" height="40.8" fill="none" stroke="#000" stroke-width="2.7"/>
<rect x="1160.25" y="1791.1" width="36" height="42" fill="#000"/>
<rect x="1229" y="1791.1" width="36" height="42" fill="#000"/>
<rect x="1298.75" y="1791.7" width="34" height="40.8" fill="none" stroke="#000" stroke-width="2.7"/>
<rect x="1366.5" y="1791.1" width="36" height="42" fill="#000"/>
<rect x="1091.5" y="1867" width="36" height="42" fill="#000"/>
<rect x="1160.25" y="1867" width="36" height="42" fill="#000"/>
<rect x="1230" y="1867.6" width="34" height="40.8" fill="none" stroke="#000" stroke-width="2.7"/>
<rect x="1298.75" y="1867.6" width="34" height="40.8" fill="none" stroke="#000" stroke-width="2.7"/>
<rect x="1367.5" y="1867.6" width="34" height="40.8" fill="none" stroke="#000" stroke-width="2.7"/>
<rect x="1091.5" y="1942.9" width="36" height="42" fill="#000"/>
<rect x="1161.25" y="1943.5" width="34" height="40.8" fill="none" stroke="#000" stroke-width="2.7"/>
<rect x="1229" y="1942.9" width="36" height="42" fill="#000"/>
<rect x="1297.75" y="1942.9" width="36" height="42" fill="#000"/>
<rect x="1367.5" y="1943.5" width="34" height="40.8" fill="none" stroke="#000" stroke-width="2.7"/>
<circle cx="1138.5" cy="1824" r="12.5" fill="none" stroke="#000" stroke-width="7.8"/>
<circle cx="1385.25" cy="1824" r="12.5" fill="none" stroke="#000" stroke-width="7.8"/><line x1="1364.75" y1="1824" x2="1405.75" y2="1824" stroke="#000" stroke-width="2.7"/><line x1="1385.25" y1="1803.5" x2="1385.25" y2="1844.5" stroke="#000" stroke-width="2.7"/>
<circle cx="1138.5" cy="1937.6" r="12.5" fill="none" stroke="#000" stroke-width="7.8"/><line x1="1124" y1="1923.1" x2="1153" y2="1952.1" stroke="#000" stroke-width="2.7"/><line x1="1124" y1="1952.1" x2="1153" y2="1923.1" stroke="#000" stroke-width="2.7"/>
<circle cx="1385.25" cy="1937.6" r="12.5" fill="none" stroke="#000" stroke-width="7.8"/><line x1="1364.75" y1="1937.6" x2="1405.75" y2="1937.6" stroke="#000" stroke-width="2.7"/><line x1="1385.25" y1="1917.1" x2="1385.25" y2="1958.1" stroke="#000" stroke-width="2.7"/>
<polygon points="1116.5,1897 1116.5,1921 1137.5,1909" fill="#000" stroke="#000" stroke-width="1"/>
<polygon points="1270,1896.8 1270,1920.8 1249,1908.8" fill="#000" stroke="#000" stroke-width="1"/>
<polygon points="1356,1896.8 1356,1920.8 1335,1908.8" fill="#000" stroke="#000" stroke-width="1"/>
</g>
<clipPath id="c28"><rect x="183" y="1480" width="317" height="260"/></clipPath><g clip-path="url(#c28)">
<rect x="197.75" y="1487.5" width="36" height="42" fill="#000"/>
<rect x="267.5" y="1488.1" width="34" height="40.8" fill="none" stroke="#000" stroke-width="2.7"/>
<rect x="335.25" y="1487.5" width="36" height="42" fill="#000"/>
<rect x="404" y="1487.5" width="36" height="42" fill="#000"/>
<rect x="266.5" y="1563.4" width="36" height="42" fill="#000"/>
<rect x="335.25" y="1563.4" width="36" height="42" fill="#000"/>
<rect x="404" y="1563.4" width="36" height="42" fill="#000"/>
<rect x="336.25" y="1639.9" width="34" height="40.8" fill="none" stroke="#000" stroke-width="2.7"/>
<rect x="405" y="1639.9" width="34" height="40.8" fill="none" stroke="#000" stroke-width="2.7"/>
<rect x="336.25" y="1715.8" width="34" height="40.8" fill="none" stroke="#000" stroke-width="2.7"/>
<rect x="405" y="1715.8" width="34" height="40.8" fill="none" stroke="#000" stroke-width="2.7"/>
</g>
<polyline fill="none" stroke="#000" stroke-width="7.8" stroke-linecap="round" stroke-linejoin="round" points="410.8,1483.2 410.7,1483.6 410.7,1484.1 410.7,1484.5 410.6,1484.9 410.6,1485.4 410.5,1485.8 410.4,1486.2 410.3,1486.6 410.1,1487.1 410.0,1487.5 409.8,1487.9 409.7,1488.3 409.5,1488.7 409.3,1489.1 409.1,1489.4 408.9,1489.8 408.6,1490.2 408.4,1490.5 408.1,1490.9 407.8,1491.2 407.5,1491.6 407.2,1491.9 406.9,1492.2 406.6,1492.5 406.3,1492.8 405.9,1493.1 405.6,1493.3 405.2,1493.6 404.9,1493.8 404.5,1494.0 404.1,1494.2 403.7,1494.4 403.3,1494.6 402.9,1494.8 402.5,1494.9 402.1,1495.1 401.7,1495.2 401.3,1495.3 400.8,1495.4 400.4,1495.5 400.0,1495.6 399.6,1495.6 399.1,1495.7 398.7,1495.7 398.2,1495.7 397.8,1495.7 397.4,1495.7 396.9,1495.6 396.5,1495.6 396.1,1495.5 395.7,1495.4 395.2,1495.3 394.8,1495.2 394.4,1495.1 394.0,1494.9 393.6,1494.8 393.2,1494.6 392.8,1494.4 392.4,1494.2 392.0,1494.0 391.6,1493.8 391.3,1493.6 390.9,1493.3 390.6,1493.1 390.2,1492.8 389.9,1492.5 389.6,1492.2 389.3,1491.9 389.0,1491.6 388.7,1491.2 388.4,1490.9 388.1,1490.5 387.9,1490.2 387.6,1489.8 387.4,1489.4 387.2,1489.1 387.0,1488.7 386.8,1488.3 386.7,1487.9 386.5,1487.5 386.4,1487.1 386.2,1486.6 386.1,1486.2 386.0,1485.8 385.9,1485.4 385.9,1484.9 385.8,1484.5 385.8,1484.1 385.8,1483.6 385.8,1483.2"/>
<polygon points="370.75,1533.5 370.75,1557.5 349.75,1545.5" fill="#000" stroke="#000" stroke-width="1"/>
<clipPath id="c29"><polygon points="1262.0,1219.1 1325.3,1219.1 1229.0,1342.8 1212.5,1329.1"/></clipPath><g clip-path="url(#c29)" stroke="#000" stroke-width="3.8" stroke-linecap="round"><line x1="1145.9" y1="1303.1" x2="1246.5" y2="1156.9"/><line x1="1149.7" y1="1305.8" x2="1252.0" y2="1160.8"/><line x1="1154.7" y1="1309.3" x2="1255.5" y2="1163.3"/><line x1="1158.3" y1="1311.8" x2="1260.1" y2="1166.4"/><line x1="1163.9" y1="1315.7" x2="1264.8" y2="1169.8"/><line x1="1168.2" y1="1318.7" x2="1270.2" y2="1173.5"/><line x1="1172.2" y1="1321.5" x2="1273.9" y2="1176.1"/><line x1="1177.5" y1="1325.2" x2="1278.8" y2="1179.6"/><line x1="1181.1" y1="1327.7" x2="1283.5" y2="1182.8"/><line x1="1185.7" y1="1331.0" x2="1287.4" y2="1185.6"/><line x1="1189.8" y1="1333.8" x2="1292.5" y2="1189.2"/><line x1="1195.5" y1="1337.8" x2="1296.9" y2="1192.2"/><line x1="1200.0" y1="1341.0" x2="1300.6" y2="1194.8"/><line x1="1203.6" y1="1343.5" x2="1305.7" y2="1198.4"/><line x1="1209.0" y1="1347.3" x2="1310.8" y2="1202.0"/><line x1="1212.8" y1="1349.9" x2="1314.4" y2="1204.5"/><line x1="1217.3" y1="1353.1" x2="1319.2" y2="1207.8"/><line x1="1222.5" y1="1356.8" x2="1323.3" y2="1210.7"/><line x1="1226.8" y1="1359.8" x2="1328.5" y2="1214.4"/><line x1="1231.4" y1="1363.0" x2="1333.1" y2="1217.6"/><line x1="1235.6" y1="1365.9" x2="1337.0" y2="1220.3"/><line x1="1239.7" y1="1368.8" x2="1341.6" y2="1223.5"/><line x1="1244.8" y1="1372.4" x2="1345.7" y2="1226.4"/><line x1="1248.6" y1="1375.0" x2="1351.1" y2="1230.2"/><line x1="1253.2" y1="1378.2" x2="1354.7" y2="1232.7"/><line x1="1257.4" y1="1381.2" x2="1359.8" y2="1236.3"/><line x1="1262.3" y1="1384.6" x2="1364.9" y2="1239.8"/><line x1="1267.5" y1="1388.3" x2="1369.4" y2="1243.0"/><line x1="1271.2" y1="1390.8" x2="1372.7" y2="1245.3"/><line x1="1275.5" y1="1393.8" x2="1377.8" y2="1248.9"/><line x1="1280.8" y1="1397.6" x2="1382.2" y2="1252.0"/><line x1="1284.7" y1="1400.3" x2="1386.7" y2="1255.1"/><line x1="1289.7" y1="1403.8" x2="1391.5" y2="1258.5"/></g>
</svg></body></html>
